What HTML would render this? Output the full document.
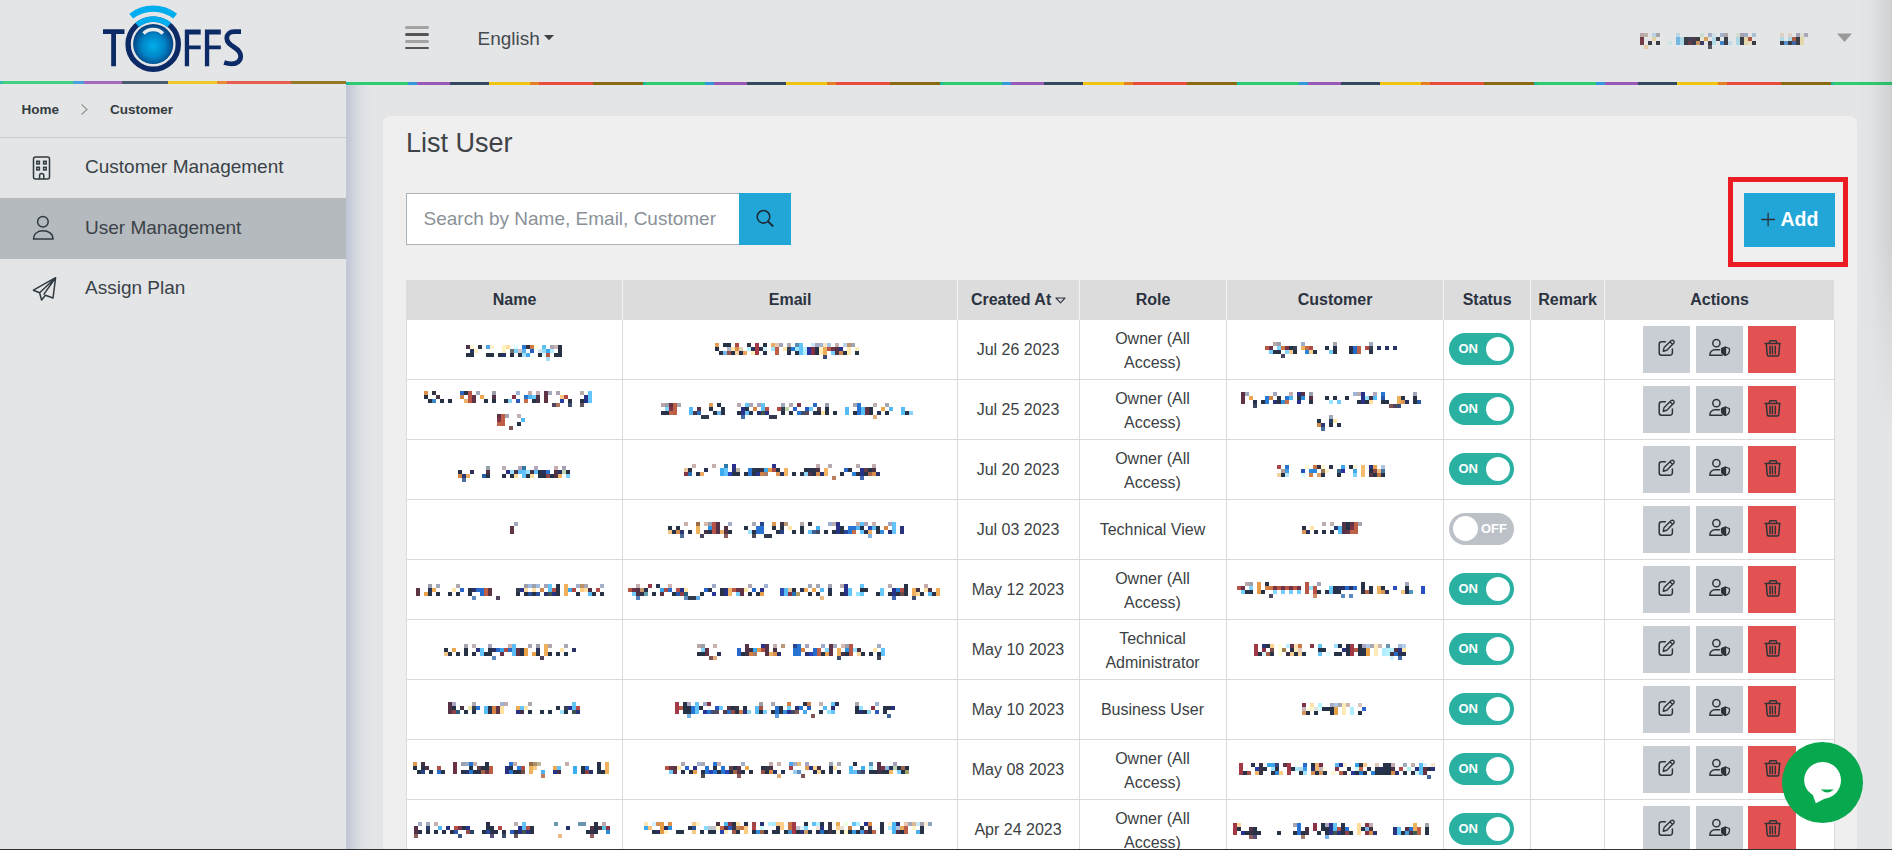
<!DOCTYPE html><html><head><meta charset="utf-8"><style>
*{box-sizing:border-box;margin:0;padding:0}
html,body{width:1892px;height:850px;overflow:hidden;background:#e4e5e6;font-family:"Liberation Sans", sans-serif;}
.a{position:absolute}
.t{position:absolute;white-space:nowrap;line-height:1}
.bar-l{position:absolute;left:0;top:81px;width:346px;height:3px;background:linear-gradient(to right,#1abc9c 0,#1abc9c 0.9%,#2ecc71 0.9%,#2ecc71 20.9%,#3498db 20.9%,#3498db 23.9%,#9b59b6 23.9%,#9b59b6 35%,#34495e 35%,#34495e 48.1%,#f1c40f 48.1%,#f1c40f 61.9%,#e67e22 61.9%,#e67e22 64.9%,#e74c3c 64.9%,#e74c3c 83.1%,#8a6a0e 83.1%,#8a6a0e 100%);background-size:350px 3px;opacity:0.88}
.bar-r{position:absolute;left:346px;top:82px;width:1546px;height:3px;background:linear-gradient(to right,#1abc9c 0,#1abc9c 0.9%,#2ecc71 0.9%,#2ecc71 20.9%,#3498db 20.9%,#3498db 23.9%,#9b59b6 23.9%,#9b59b6 35%,#34495e 35%,#34495e 48.1%,#f1c40f 48.1%,#f1c40f 61.9%,#e67e22 61.9%,#e67e22 64.9%,#e74c3c 64.9%,#e74c3c 83.1%,#8a6a0e 83.1%,#8a6a0e 100%);background-size:297px 3px;background-repeat:repeat-x}
.side-shadow{position:absolute;left:346px;top:85px;width:28px;height:765px;background:linear-gradient(to right,#c0c6d5 0,#c6cbd8 14%,#d3d7df 36%,#dcdfe3 54%,#e1e2e5 72%,#e4e5e6 100%)}
.card{position:absolute;left:383px;top:116px;width:1474px;height:800px;background:#efefef;border-radius:8px}
.hline{position:absolute;height:1px}
.vline{position:absolute;width:1px}
.menu{font-size:19px;color:#3a4248}
.th{font-size:16px;font-weight:bold;color:#2b3240;text-align:center}
.td{font-size:16px;color:#3b3f44;text-align:center;line-height:24px}
.btn{position:absolute;width:47px;height:47px}
.tog{position:absolute;width:65px;height:31.6px;border-radius:16px}
</style></head><body>
<svg class="a" style="left:0;top:0" width="300" height="80" viewBox="0 0 300 80">
<defs><radialGradient id="ball" cx="153.2" cy="46" r="21" gradientUnits="userSpaceOnUse">
<stop offset="0" stop-color="#00aeea"/><stop offset="0.55" stop-color="#0084c6"/><stop offset="1" stop-color="#063f7e"/></radialGradient></defs>
<path d="M103 29.2H124.5V33.9H116V66.2H111.2V33.9H103Z" fill="#0c2a66"/>
<circle cx="153.2" cy="44.2" r="25.1" fill="none" stroke="#0c2a66" stroke-width="5.4"/>
<path d="M137.07 24.97 A25.1 25.1 0 0 1 169.33 24.97" fill="none" stroke="#00adef" stroke-width="5.6"/>
<path d="M131.2 16.1 A35.8 35.8 0 0 1 175.2 16.1" fill="none" stroke="#00adef" stroke-width="6.2"/>
<circle cx="153.2" cy="44" r="20.1" fill="url(#ball)"/>
<path d="M143.5 33.5 A13.8 13.8 0 0 1 162.9 33.5" fill="none" stroke="#e8eaec" stroke-width="3.4"/>
<path d="M184.8 29.6H200.7V34.4H189.1V45.5H200.7V49.2H189.1V66.2H184.8Z" fill="#0c2a66"/>
<path d="M204.9 29.6H220.8V34.4H209.2V45.5H220.8V49.2H209.2V66.2H204.9Z" fill="#0c2a66"/>
<path d="M241 31.6C238.6 31.6 236.4 31.6 234.3 31.6C229.6 31.6 226.8 34.3 226.8 38.2C226.8 42.6 230 44.6 234 47.1C238.5 49.9 240.7 52.2 240.7 56.3C240.7 61 237 63.8 231.8 63.8C229.2 63.8 226.6 63.3 224.2 62.5" fill="none" stroke="#0c2a66" stroke-width="4.8"/>
</svg>
<div class="bar-l"></div><div class="bar-r"></div>
<div class="a" style="left:405px;top:26.2px;width:23.5px;height:2.9px;border-radius:1.5px;background:#a3a3a3"></div>
<div class="a" style="left:405px;top:33px;width:23.5px;height:2.9px;border-radius:1.5px;background:#555"></div>
<div class="a" style="left:405px;top:39.9px;width:23.5px;height:2.9px;border-radius:1.5px;background:#a3a3a3"></div>
<div class="a" style="left:405px;top:46.5px;width:23.5px;height:2.9px;border-radius:1.5px;background:#555"></div>
<div class="t" style="left:477.5px;top:29px;font-size:19px;color:#454a4f">English</div>
<svg class="a" style="left:543px;top:34px" width="12" height="8"><path d="M1 1H11L6 6.2Z" fill="#3d4247"/></svg>
<svg class="a" style="left:0;top:0" width="1892" height="80"><rect x="1640" y="33" width="4" height="4" fill="#baa6a7"/><rect x="1644" y="33" width="4" height="4" fill="#b9b3ab"/><rect x="1652" y="33" width="4" height="4" fill="#b7d2e3"/><rect x="1656" y="33" width="4" height="4" fill="#a7a2a7"/><rect x="1676" y="33" width="4" height="4" fill="#bfd6e5"/><rect x="1700" y="33" width="4" height="4" fill="#cdddd2"/><rect x="1708" y="33" width="4" height="4" fill="#a3b0c6"/><rect x="1712" y="33" width="4" height="4" fill="#d1e1e6"/><rect x="1720" y="33" width="4" height="4" fill="#a1b3cf"/><rect x="1724" y="33" width="4" height="4" fill="#aca4a4"/><rect x="1736" y="33" width="4" height="4" fill="#d7dacc"/><rect x="1740" y="33" width="4" height="4" fill="#a7a3b6"/><rect x="1744" y="33" width="4" height="4" fill="#a1acc0"/><rect x="1752" y="33" width="4" height="4" fill="#abbed3"/><rect x="1780" y="33" width="4" height="4" fill="#ded1c2"/><rect x="1788" y="33" width="4" height="4" fill="#dfd3c4"/><rect x="1796" y="33" width="4" height="4" fill="#a6a3b6"/><rect x="1800" y="33" width="4" height="4" fill="#dbded1"/><rect x="1804" y="33" width="4" height="4" fill="#a9a9bb"/><rect x="1640" y="37" width="4" height="4" fill="#713c46"/><rect x="1652" y="37" width="4" height="4" fill="#e4d1a1"/><rect x="1676" y="37" width="4" height="4" fill="#74b8e2"/><rect x="1680" y="37" width="4" height="4" fill="#acd8e6"/><rect x="1684" y="37" width="4" height="4" fill="#3c3c46"/><rect x="1688" y="37" width="4" height="4" fill="#3c4259"/><rect x="1692" y="37" width="4" height="4" fill="#4e3d46"/><rect x="1696" y="37" width="4" height="4" fill="#3c3c46"/><rect x="1700" y="37" width="4" height="4" fill="#e4e5d1"/><rect x="1704" y="37" width="4" height="4" fill="#d6a158"/><rect x="1712" y="37" width="4" height="4" fill="#b1dbe6"/><rect x="1716" y="37" width="4" height="4" fill="#3c3c46"/><rect x="1724" y="37" width="4" height="4" fill="#3c3c46"/><rect x="1736" y="37" width="4" height="4" fill="#aad7e6"/><rect x="1740" y="37" width="4" height="4" fill="#3c3c46"/><rect x="1744" y="37" width="4" height="4" fill="#e4d6ac"/><rect x="1748" y="37" width="4" height="4" fill="#a95846"/><rect x="1780" y="37" width="4" height="4" fill="#afdae6"/><rect x="1788" y="37" width="4" height="4" fill="#aed9e6"/><rect x="1792" y="37" width="4" height="4" fill="#ad5f46"/><rect x="1796" y="37" width="4" height="4" fill="#3c3c46"/><rect x="1800" y="37" width="4" height="4" fill="#e4d6ab"/><rect x="1640" y="41" width="4" height="4" fill="#713c46"/><rect x="1648" y="41" width="4" height="4" fill="#3c3c46"/><rect x="1656" y="41" width="4" height="4" fill="#3c3c46"/><rect x="1668" y="41" width="4" height="4" fill="#cae5e6"/><rect x="1676" y="41" width="4" height="4" fill="#74b8e2"/><rect x="1680" y="41" width="4" height="4" fill="#add9e6"/><rect x="1684" y="41" width="4" height="4" fill="#3c3c46"/><rect x="1688" y="41" width="4" height="4" fill="#633c46"/><rect x="1692" y="41" width="4" height="4" fill="#3c3c57"/><rect x="1696" y="41" width="4" height="4" fill="#c9935c"/><rect x="1700" y="41" width="4" height="4" fill="#3c3c64"/><rect x="1708" y="41" width="4" height="4" fill="#423c46"/><rect x="1712" y="41" width="4" height="4" fill="#b1dbe6"/><rect x="1720" y="41" width="4" height="4" fill="#4286c7"/><rect x="1724" y="41" width="4" height="4" fill="#3c3c49"/><rect x="1728" y="41" width="4" height="4" fill="#b9dae6"/><rect x="1736" y="41" width="4" height="4" fill="#add9e6"/><rect x="1740" y="41" width="4" height="4" fill="#3c3c46"/><rect x="1744" y="41" width="4" height="4" fill="#e4d6ac"/><rect x="1748" y="41" width="4" height="4" fill="#e4ddc3"/><rect x="1752" y="41" width="4" height="4" fill="#3c3c46"/><rect x="1780" y="41" width="4" height="4" fill="#3c3c46"/><rect x="1784" y="41" width="4" height="4" fill="#5895cc"/><rect x="1788" y="41" width="4" height="4" fill="#3c3c46"/><rect x="1792" y="41" width="4" height="4" fill="#3c66a5"/><rect x="1796" y="41" width="4" height="4" fill="#3c3c46"/><rect x="1800" y="41" width="4" height="4" fill="#e4d6ab"/><rect x="1644" y="45" width="4" height="4" fill="#e2caa4"/><rect x="1708" y="45" width="4" height="4" fill="#565866"/></svg>
<svg class="a" style="left:1836px;top:32px" width="18" height="12"><path d="M1 1.5H16L8.5 10Z" fill="#999"/></svg>
<div class="t" style="left:21.5px;top:102.5px;font-size:13.5px;font-weight:bold;color:#333b40">Home</div>
<svg class="a" style="left:79px;top:103px" width="12" height="13"><path d="M2.5 1.5L8 6.5L2.5 11.5" fill="none" stroke="#9a9a9a" stroke-width="1.3"/></svg>
<div class="t" style="left:110px;top:102.5px;font-size:13.5px;font-weight:bold;color:#333b40">Customer</div>
<div class="hline" style="left:0;top:137px;width:346px;background:#c9cbcd"></div>
<div class="a" style="left:0;top:198px;width:346px;height:61px;background:#b5babe"></div>
<svg class="a" style="left:0;top:140px" width="80" height="180" viewBox="0 140 80 180" fill="none" stroke="#2f3a40" stroke-width="1.5">
<rect x="33.5" y="157" width="16" height="22" rx="2"/>
<rect x="36.8" y="161.3" width="2.6" height="2.6"/><rect x="43.6" y="161.3" width="2.6" height="2.6"/>
<rect x="36.8" y="167.3" width="2.6" height="2.6"/><rect x="43.6" y="167.3" width="2.6" height="2.6"/>
<path d="M39.6 179V175.6A2.1 2.1 0 0 1 43.8 175.6V179"/>
<circle cx="42.9" cy="221.8" r="5.3"/>
<path d="M33.6 239.1C33.6 233.8 37.5 230.8 43 230.8C48.5 230.8 53 233.8 53 239.1Z"/>
<path d="M55.6 277.7L33.4 290.2L39.6 292.8L41.6 300L45.4 295.2L53 298Z M55.6 277.7L39.6 292.8 M55.6 277.7L43.6 294.6" stroke-linejoin="round"/>
</svg>
<div class="t menu" style="left:85px;top:157.4px">Customer Management</div>
<div class="t menu" style="left:85px;top:217.6px">User Management</div>
<div class="t menu" style="left:85px;top:277.6px">Assign Plan</div>
<div class="side-shadow"></div>
<div class="card"></div>
<div class="hline" style="left:383px;top:171px;width:1474px;background:#f1f2f4"></div>
<div class="t" style="left:406px;top:130px;font-size:27px;color:#3f4347">List User</div>
<div class="a" style="left:406px;top:193px;width:334px;height:52px;background:#fff;border:1px solid #a9b1b9"></div>
<div class="t" style="left:423.5px;top:209px;font-size:19px;color:#8a9198">Search by Name, Email, Customer</div>
<div class="a" style="left:739px;top:193px;width:52px;height:52px;background:#22a6d8"></div>
<svg class="a" style="left:750px;top:204px" width="30" height="30"><circle cx="13.5" cy="12.8" r="6.3" fill="none" stroke="#1d2a33" stroke-width="1.6"/><path d="M18 17.5L22.8 22" stroke="#1d2a33" stroke-width="1.8" stroke-linecap="round"/></svg>
<div class="a" style="left:1728px;top:177px;width:120px;height:90px;border:5px solid #ec1c24"></div>
<div class="a" style="left:1744px;top:193px;width:91px;height:54px;background:#22a6d8"></div>
<svg class="a" style="left:1760px;top:211px" width="17" height="17"><path d="M8.1 1.7V15.3M1.2 8.5H15" stroke="#2b3338" stroke-width="1.3"/></svg>
<div class="t" style="left:1780.5px;top:209.5px;font-size:19.5px;font-weight:bold;color:#fff">Add</div>
<div class="a" style="left:406px;top:280px;width:1428px;height:40px;background:#dcdcdc"></div>
<div class="a" style="left:406px;top:320px;width:1429px;height:530px;background:#fff"></div>
<div class="t th" style="left:406.6px;top:291.5px;width:216px">Name</div>
<div class="t th" style="left:622.6px;top:291.5px;width:335px">Email</div>
<div class="t th" style="left:957.6px;top:291.5px;width:122px">Created At<svg style="display:inline-block;margin-left:4px;vertical-align:1px" width="11" height="7"><path d="M1 1H10L5.5 5.8Z" fill="none" stroke="#2b3240" stroke-width="1.1" stroke-linejoin="round"/></svg></div>
<div class="t th" style="left:1079.6px;top:291.5px;width:147px">Role</div>
<div class="t th" style="left:1226.6px;top:291.5px;width:217px">Customer</div>
<div class="t th" style="left:1443.6px;top:291.5px;width:87px">Status</div>
<div class="t th" style="left:1530.6px;top:291.5px;width:74px">Remark</div>
<div class="t th" style="left:1604.6px;top:291.5px;width:230px">Actions</div>
<div class="vline" style="left:622px;top:280px;height:40px;background:#f3f3f3"></div>
<div class="vline" style="left:957px;top:280px;height:40px;background:#f3f3f3"></div>
<div class="vline" style="left:1079px;top:280px;height:40px;background:#f3f3f3"></div>
<div class="vline" style="left:1226px;top:280px;height:40px;background:#f3f3f3"></div>
<div class="vline" style="left:1443px;top:280px;height:40px;background:#f3f3f3"></div>
<div class="vline" style="left:1530px;top:280px;height:40px;background:#f3f3f3"></div>
<div class="vline" style="left:1604px;top:280px;height:40px;background:#f3f3f3"></div>
<div class="vline" style="left:406px;top:320px;height:530px;background:#dadada"></div>
<div class="vline" style="left:622px;top:320px;height:530px;background:#dadada"></div>
<div class="vline" style="left:957px;top:320px;height:530px;background:#dadada"></div>
<div class="vline" style="left:1079px;top:320px;height:530px;background:#dadada"></div>
<div class="vline" style="left:1226px;top:320px;height:530px;background:#dadada"></div>
<div class="vline" style="left:1443px;top:320px;height:530px;background:#dadada"></div>
<div class="vline" style="left:1530px;top:320px;height:530px;background:#dadada"></div>
<div class="vline" style="left:1604px;top:320px;height:530px;background:#dadada"></div>
<div class="vline" style="left:1834px;top:320px;height:530px;background:#dadada"></div>
<div class="hline" style="left:406px;top:379.000px;width:1429px;background:#dadada"></div>
<div class="hline" style="left:406px;top:439.000px;width:1429px;background:#dadada"></div>
<div class="hline" style="left:406px;top:499.000px;width:1429px;background:#dadada"></div>
<div class="hline" style="left:406px;top:559.000px;width:1429px;background:#dadada"></div>
<div class="hline" style="left:406px;top:619.000px;width:1429px;background:#dadada"></div>
<div class="hline" style="left:406px;top:679.000px;width:1429px;background:#dadada"></div>
<div class="hline" style="left:406px;top:739.000px;width:1429px;background:#dadada"></div>
<div class="hline" style="left:406px;top:799.000px;width:1429px;background:#dadada"></div>
<div class="hline" style="left:406px;top:859.000px;width:1429px;background:#dadada"></div>
<div class="t td" style="left:957px;top:338.00px;width:122px">Jul 26 2023</div>
<div class="a td" style="left:1079px;top:326.50px;width:147px">Owner (All<br>Access)</div>
<div class="tog" style="left:1449px;top:333.00px;background:#2bb1a1"><div class="a" style="left:37px;top:3.8px;width:24px;height:24px;border-radius:50%;background:#fff"></div><div class="t" style="left:9.5px;top:9px;font-size:13px;font-weight:bold;color:#fff">ON</div></div>
<div class="btn" style="left:1643px;top:326.00px;background:#c9ced4"></div>
<div class="btn" style="left:1696px;top:326.00px;background:#c9ced4"></div>
<div class="btn" style="left:1748px;top:326.00px;width:48px;background:#e35252"></div>
<svg class="a" style="left:1643px;top:326.00px" width="160" height="47" fill="none" stroke="#2e3338" stroke-width="1.5" stroke-linecap="round" stroke-linejoin="round">
<path d="M22.4 15.65H18.7A2.5 2.5 0 0 0 16.2 18.15V26.7A2.5 2.5 0 0 0 18.7 29.2H26.9A2.5 2.5 0 0 0 29.4 26.7V23.1"/>
<path d="M20.2 25.2L21.1 21.6L28.3 14.5A1.9 1.9 0 0 1 30.9 17.1L23.8 24.3Z" stroke-width="1.4"/>
<path d="M27.1 16L29.5 18.3" stroke-width="1.2"/>
<circle cx="73.4" cy="17.2" r="3.6"/>
<path d="M66.9 29.3V28.6A5 4.8 0 0 1 71.9 23.8H76.5M66.9 29.3H79"/>
<path d="M82.5 21.2L78.6 22.5V24.8C78.6 27 80.2 28.6 82.5 29.3C84.8 28.6 86.4 27 86.4 24.8V22.5Z" stroke-width="1.3"/>
<path d="M82.5 21.2L78.6 22.5V24.8C78.6 27 80.2 28.6 82.5 29.3Z" fill="#2e3338" stroke-width="1.3"/>
<path d="M122 17.4H137M126.1 17.4L126.9 14.8H133.1L133.9 17.4M123.3 17.4L124.2 28.5A1.6 1.6 0 0 0 125.8 30H134.2A1.6 1.6 0 0 0 135.8 28.5L136.7 17.4M127 20.3V27.7M129.4 20.3V27.7M132.3 20.3V27.7"/>
</svg>
<div class="t td" style="left:957px;top:398.00px;width:122px">Jul 25 2023</div>
<div class="a td" style="left:1079px;top:386.50px;width:147px">Owner (All<br>Access)</div>
<div class="tog" style="left:1449px;top:393.00px;background:#2bb1a1"><div class="a" style="left:37px;top:3.8px;width:24px;height:24px;border-radius:50%;background:#fff"></div><div class="t" style="left:9.5px;top:9px;font-size:13px;font-weight:bold;color:#fff">ON</div></div>
<div class="btn" style="left:1643px;top:386.00px;background:#c9ced4"></div>
<div class="btn" style="left:1696px;top:386.00px;background:#c9ced4"></div>
<div class="btn" style="left:1748px;top:386.00px;width:48px;background:#e35252"></div>
<svg class="a" style="left:1643px;top:386.00px" width="160" height="47" fill="none" stroke="#2e3338" stroke-width="1.5" stroke-linecap="round" stroke-linejoin="round">
<path d="M22.4 15.65H18.7A2.5 2.5 0 0 0 16.2 18.15V26.7A2.5 2.5 0 0 0 18.7 29.2H26.9A2.5 2.5 0 0 0 29.4 26.7V23.1"/>
<path d="M20.2 25.2L21.1 21.6L28.3 14.5A1.9 1.9 0 0 1 30.9 17.1L23.8 24.3Z" stroke-width="1.4"/>
<path d="M27.1 16L29.5 18.3" stroke-width="1.2"/>
<circle cx="73.4" cy="17.2" r="3.6"/>
<path d="M66.9 29.3V28.6A5 4.8 0 0 1 71.9 23.8H76.5M66.9 29.3H79"/>
<path d="M82.5 21.2L78.6 22.5V24.8C78.6 27 80.2 28.6 82.5 29.3C84.8 28.6 86.4 27 86.4 24.8V22.5Z" stroke-width="1.3"/>
<path d="M82.5 21.2L78.6 22.5V24.8C78.6 27 80.2 28.6 82.5 29.3Z" fill="#2e3338" stroke-width="1.3"/>
<path d="M122 17.4H137M126.1 17.4L126.9 14.8H133.1L133.9 17.4M123.3 17.4L124.2 28.5A1.6 1.6 0 0 0 125.8 30H134.2A1.6 1.6 0 0 0 135.8 28.5L136.7 17.4M127 20.3V27.7M129.4 20.3V27.7M132.3 20.3V27.7"/>
</svg>
<div class="t td" style="left:957px;top:458.00px;width:122px">Jul 20 2023</div>
<div class="a td" style="left:1079px;top:446.50px;width:147px">Owner (All<br>Access)</div>
<div class="tog" style="left:1449px;top:453.00px;background:#2bb1a1"><div class="a" style="left:37px;top:3.8px;width:24px;height:24px;border-radius:50%;background:#fff"></div><div class="t" style="left:9.5px;top:9px;font-size:13px;font-weight:bold;color:#fff">ON</div></div>
<div class="btn" style="left:1643px;top:446.00px;background:#c9ced4"></div>
<div class="btn" style="left:1696px;top:446.00px;background:#c9ced4"></div>
<div class="btn" style="left:1748px;top:446.00px;width:48px;background:#e35252"></div>
<svg class="a" style="left:1643px;top:446.00px" width="160" height="47" fill="none" stroke="#2e3338" stroke-width="1.5" stroke-linecap="round" stroke-linejoin="round">
<path d="M22.4 15.65H18.7A2.5 2.5 0 0 0 16.2 18.15V26.7A2.5 2.5 0 0 0 18.7 29.2H26.9A2.5 2.5 0 0 0 29.4 26.7V23.1"/>
<path d="M20.2 25.2L21.1 21.6L28.3 14.5A1.9 1.9 0 0 1 30.9 17.1L23.8 24.3Z" stroke-width="1.4"/>
<path d="M27.1 16L29.5 18.3" stroke-width="1.2"/>
<circle cx="73.4" cy="17.2" r="3.6"/>
<path d="M66.9 29.3V28.6A5 4.8 0 0 1 71.9 23.8H76.5M66.9 29.3H79"/>
<path d="M82.5 21.2L78.6 22.5V24.8C78.6 27 80.2 28.6 82.5 29.3C84.8 28.6 86.4 27 86.4 24.8V22.5Z" stroke-width="1.3"/>
<path d="M82.5 21.2L78.6 22.5V24.8C78.6 27 80.2 28.6 82.5 29.3Z" fill="#2e3338" stroke-width="1.3"/>
<path d="M122 17.4H137M126.1 17.4L126.9 14.8H133.1L133.9 17.4M123.3 17.4L124.2 28.5A1.6 1.6 0 0 0 125.8 30H134.2A1.6 1.6 0 0 0 135.8 28.5L136.7 17.4M127 20.3V27.7M129.4 20.3V27.7M132.3 20.3V27.7"/>
</svg>
<div class="t td" style="left:957px;top:518.00px;width:122px">Jul 03 2023</div>
<div class="a td" style="left:1079px;top:517.50px;width:147px">Technical View</div>
<div class="tog" style="left:1449px;top:513.00px;background:#bcc1c8"><div class="a" style="left:3.8px;top:3.3px;width:25px;height:25px;border-radius:50%;background:#fff"></div><div class="t" style="left:32px;top:8.5px;font-size:13px;font-weight:bold;color:#fff">OFF</div></div>
<div class="btn" style="left:1643px;top:506.00px;background:#c9ced4"></div>
<div class="btn" style="left:1696px;top:506.00px;background:#c9ced4"></div>
<div class="btn" style="left:1748px;top:506.00px;width:48px;background:#e35252"></div>
<svg class="a" style="left:1643px;top:506.00px" width="160" height="47" fill="none" stroke="#2e3338" stroke-width="1.5" stroke-linecap="round" stroke-linejoin="round">
<path d="M22.4 15.65H18.7A2.5 2.5 0 0 0 16.2 18.15V26.7A2.5 2.5 0 0 0 18.7 29.2H26.9A2.5 2.5 0 0 0 29.4 26.7V23.1"/>
<path d="M20.2 25.2L21.1 21.6L28.3 14.5A1.9 1.9 0 0 1 30.9 17.1L23.8 24.3Z" stroke-width="1.4"/>
<path d="M27.1 16L29.5 18.3" stroke-width="1.2"/>
<circle cx="73.4" cy="17.2" r="3.6"/>
<path d="M66.9 29.3V28.6A5 4.8 0 0 1 71.9 23.8H76.5M66.9 29.3H79"/>
<path d="M82.5 21.2L78.6 22.5V24.8C78.6 27 80.2 28.6 82.5 29.3C84.8 28.6 86.4 27 86.4 24.8V22.5Z" stroke-width="1.3"/>
<path d="M82.5 21.2L78.6 22.5V24.8C78.6 27 80.2 28.6 82.5 29.3Z" fill="#2e3338" stroke-width="1.3"/>
<path d="M122 17.4H137M126.1 17.4L126.9 14.8H133.1L133.9 17.4M123.3 17.4L124.2 28.5A1.6 1.6 0 0 0 125.8 30H134.2A1.6 1.6 0 0 0 135.8 28.5L136.7 17.4M127 20.3V27.7M129.4 20.3V27.7M132.3 20.3V27.7"/>
</svg>
<div class="t td" style="left:957px;top:578.00px;width:122px">May 12 2023</div>
<div class="a td" style="left:1079px;top:566.50px;width:147px">Owner (All<br>Access)</div>
<div class="tog" style="left:1449px;top:573.00px;background:#2bb1a1"><div class="a" style="left:37px;top:3.8px;width:24px;height:24px;border-radius:50%;background:#fff"></div><div class="t" style="left:9.5px;top:9px;font-size:13px;font-weight:bold;color:#fff">ON</div></div>
<div class="btn" style="left:1643px;top:566.00px;background:#c9ced4"></div>
<div class="btn" style="left:1696px;top:566.00px;background:#c9ced4"></div>
<div class="btn" style="left:1748px;top:566.00px;width:48px;background:#e35252"></div>
<svg class="a" style="left:1643px;top:566.00px" width="160" height="47" fill="none" stroke="#2e3338" stroke-width="1.5" stroke-linecap="round" stroke-linejoin="round">
<path d="M22.4 15.65H18.7A2.5 2.5 0 0 0 16.2 18.15V26.7A2.5 2.5 0 0 0 18.7 29.2H26.9A2.5 2.5 0 0 0 29.4 26.7V23.1"/>
<path d="M20.2 25.2L21.1 21.6L28.3 14.5A1.9 1.9 0 0 1 30.9 17.1L23.8 24.3Z" stroke-width="1.4"/>
<path d="M27.1 16L29.5 18.3" stroke-width="1.2"/>
<circle cx="73.4" cy="17.2" r="3.6"/>
<path d="M66.9 29.3V28.6A5 4.8 0 0 1 71.9 23.8H76.5M66.9 29.3H79"/>
<path d="M82.5 21.2L78.6 22.5V24.8C78.6 27 80.2 28.6 82.5 29.3C84.8 28.6 86.4 27 86.4 24.8V22.5Z" stroke-width="1.3"/>
<path d="M82.5 21.2L78.6 22.5V24.8C78.6 27 80.2 28.6 82.5 29.3Z" fill="#2e3338" stroke-width="1.3"/>
<path d="M122 17.4H137M126.1 17.4L126.9 14.8H133.1L133.9 17.4M123.3 17.4L124.2 28.5A1.6 1.6 0 0 0 125.8 30H134.2A1.6 1.6 0 0 0 135.8 28.5L136.7 17.4M127 20.3V27.7M129.4 20.3V27.7M132.3 20.3V27.7"/>
</svg>
<div class="t td" style="left:957px;top:638.00px;width:122px">May 10 2023</div>
<div class="a td" style="left:1079px;top:626.50px;width:147px">Technical<br>Administrator</div>
<div class="tog" style="left:1449px;top:633.00px;background:#2bb1a1"><div class="a" style="left:37px;top:3.8px;width:24px;height:24px;border-radius:50%;background:#fff"></div><div class="t" style="left:9.5px;top:9px;font-size:13px;font-weight:bold;color:#fff">ON</div></div>
<div class="btn" style="left:1643px;top:626.00px;background:#c9ced4"></div>
<div class="btn" style="left:1696px;top:626.00px;background:#c9ced4"></div>
<div class="btn" style="left:1748px;top:626.00px;width:48px;background:#e35252"></div>
<svg class="a" style="left:1643px;top:626.00px" width="160" height="47" fill="none" stroke="#2e3338" stroke-width="1.5" stroke-linecap="round" stroke-linejoin="round">
<path d="M22.4 15.65H18.7A2.5 2.5 0 0 0 16.2 18.15V26.7A2.5 2.5 0 0 0 18.7 29.2H26.9A2.5 2.5 0 0 0 29.4 26.7V23.1"/>
<path d="M20.2 25.2L21.1 21.6L28.3 14.5A1.9 1.9 0 0 1 30.9 17.1L23.8 24.3Z" stroke-width="1.4"/>
<path d="M27.1 16L29.5 18.3" stroke-width="1.2"/>
<circle cx="73.4" cy="17.2" r="3.6"/>
<path d="M66.9 29.3V28.6A5 4.8 0 0 1 71.9 23.8H76.5M66.9 29.3H79"/>
<path d="M82.5 21.2L78.6 22.5V24.8C78.6 27 80.2 28.6 82.5 29.3C84.8 28.6 86.4 27 86.4 24.8V22.5Z" stroke-width="1.3"/>
<path d="M82.5 21.2L78.6 22.5V24.8C78.6 27 80.2 28.6 82.5 29.3Z" fill="#2e3338" stroke-width="1.3"/>
<path d="M122 17.4H137M126.1 17.4L126.9 14.8H133.1L133.9 17.4M123.3 17.4L124.2 28.5A1.6 1.6 0 0 0 125.8 30H134.2A1.6 1.6 0 0 0 135.8 28.5L136.7 17.4M127 20.3V27.7M129.4 20.3V27.7M132.3 20.3V27.7"/>
</svg>
<div class="t td" style="left:957px;top:698.00px;width:122px">May 10 2023</div>
<div class="a td" style="left:1079px;top:697.50px;width:147px">Business User</div>
<div class="tog" style="left:1449px;top:693.00px;background:#2bb1a1"><div class="a" style="left:37px;top:3.8px;width:24px;height:24px;border-radius:50%;background:#fff"></div><div class="t" style="left:9.5px;top:9px;font-size:13px;font-weight:bold;color:#fff">ON</div></div>
<div class="btn" style="left:1643px;top:686.00px;background:#c9ced4"></div>
<div class="btn" style="left:1696px;top:686.00px;background:#c9ced4"></div>
<div class="btn" style="left:1748px;top:686.00px;width:48px;background:#e35252"></div>
<svg class="a" style="left:1643px;top:686.00px" width="160" height="47" fill="none" stroke="#2e3338" stroke-width="1.5" stroke-linecap="round" stroke-linejoin="round">
<path d="M22.4 15.65H18.7A2.5 2.5 0 0 0 16.2 18.15V26.7A2.5 2.5 0 0 0 18.7 29.2H26.9A2.5 2.5 0 0 0 29.4 26.7V23.1"/>
<path d="M20.2 25.2L21.1 21.6L28.3 14.5A1.9 1.9 0 0 1 30.9 17.1L23.8 24.3Z" stroke-width="1.4"/>
<path d="M27.1 16L29.5 18.3" stroke-width="1.2"/>
<circle cx="73.4" cy="17.2" r="3.6"/>
<path d="M66.9 29.3V28.6A5 4.8 0 0 1 71.9 23.8H76.5M66.9 29.3H79"/>
<path d="M82.5 21.2L78.6 22.5V24.8C78.6 27 80.2 28.6 82.5 29.3C84.8 28.6 86.4 27 86.4 24.8V22.5Z" stroke-width="1.3"/>
<path d="M82.5 21.2L78.6 22.5V24.8C78.6 27 80.2 28.6 82.5 29.3Z" fill="#2e3338" stroke-width="1.3"/>
<path d="M122 17.4H137M126.1 17.4L126.9 14.8H133.1L133.9 17.4M123.3 17.4L124.2 28.5A1.6 1.6 0 0 0 125.8 30H134.2A1.6 1.6 0 0 0 135.8 28.5L136.7 17.4M127 20.3V27.7M129.4 20.3V27.7M132.3 20.3V27.7"/>
</svg>
<div class="t td" style="left:957px;top:758.00px;width:122px">May 08 2023</div>
<div class="a td" style="left:1079px;top:746.50px;width:147px">Owner (All<br>Access)</div>
<div class="tog" style="left:1449px;top:753.00px;background:#2bb1a1"><div class="a" style="left:37px;top:3.8px;width:24px;height:24px;border-radius:50%;background:#fff"></div><div class="t" style="left:9.5px;top:9px;font-size:13px;font-weight:bold;color:#fff">ON</div></div>
<div class="btn" style="left:1643px;top:746.00px;background:#c9ced4"></div>
<div class="btn" style="left:1696px;top:746.00px;background:#c9ced4"></div>
<div class="btn" style="left:1748px;top:746.00px;width:48px;background:#e35252"></div>
<svg class="a" style="left:1643px;top:746.00px" width="160" height="47" fill="none" stroke="#2e3338" stroke-width="1.5" stroke-linecap="round" stroke-linejoin="round">
<path d="M22.4 15.65H18.7A2.5 2.5 0 0 0 16.2 18.15V26.7A2.5 2.5 0 0 0 18.7 29.2H26.9A2.5 2.5 0 0 0 29.4 26.7V23.1"/>
<path d="M20.2 25.2L21.1 21.6L28.3 14.5A1.9 1.9 0 0 1 30.9 17.1L23.8 24.3Z" stroke-width="1.4"/>
<path d="M27.1 16L29.5 18.3" stroke-width="1.2"/>
<circle cx="73.4" cy="17.2" r="3.6"/>
<path d="M66.9 29.3V28.6A5 4.8 0 0 1 71.9 23.8H76.5M66.9 29.3H79"/>
<path d="M82.5 21.2L78.6 22.5V24.8C78.6 27 80.2 28.6 82.5 29.3C84.8 28.6 86.4 27 86.4 24.8V22.5Z" stroke-width="1.3"/>
<path d="M82.5 21.2L78.6 22.5V24.8C78.6 27 80.2 28.6 82.5 29.3Z" fill="#2e3338" stroke-width="1.3"/>
<path d="M122 17.4H137M126.1 17.4L126.9 14.8H133.1L133.9 17.4M123.3 17.4L124.2 28.5A1.6 1.6 0 0 0 125.8 30H134.2A1.6 1.6 0 0 0 135.8 28.5L136.7 17.4M127 20.3V27.7M129.4 20.3V27.7M132.3 20.3V27.7"/>
</svg>
<div class="t td" style="left:957px;top:818.00px;width:122px">Apr 24 2023</div>
<div class="a td" style="left:1079px;top:806.50px;width:147px">Owner (All<br>Access)</div>
<div class="tog" style="left:1449px;top:813.00px;background:#2bb1a1"><div class="a" style="left:37px;top:3.8px;width:24px;height:24px;border-radius:50%;background:#fff"></div><div class="t" style="left:9.5px;top:9px;font-size:13px;font-weight:bold;color:#fff">ON</div></div>
<div class="btn" style="left:1643px;top:806.00px;background:#c9ced4"></div>
<div class="btn" style="left:1696px;top:806.00px;background:#c9ced4"></div>
<div class="btn" style="left:1748px;top:806.00px;width:48px;background:#e35252"></div>
<svg class="a" style="left:1643px;top:806.00px" width="160" height="47" fill="none" stroke="#2e3338" stroke-width="1.5" stroke-linecap="round" stroke-linejoin="round">
<path d="M22.4 15.65H18.7A2.5 2.5 0 0 0 16.2 18.15V26.7A2.5 2.5 0 0 0 18.7 29.2H26.9A2.5 2.5 0 0 0 29.4 26.7V23.1"/>
<path d="M20.2 25.2L21.1 21.6L28.3 14.5A1.9 1.9 0 0 1 30.9 17.1L23.8 24.3Z" stroke-width="1.4"/>
<path d="M27.1 16L29.5 18.3" stroke-width="1.2"/>
<circle cx="73.4" cy="17.2" r="3.6"/>
<path d="M66.9 29.3V28.6A5 4.8 0 0 1 71.9 23.8H76.5M66.9 29.3H79"/>
<path d="M82.5 21.2L78.6 22.5V24.8C78.6 27 80.2 28.6 82.5 29.3C84.8 28.6 86.4 27 86.4 24.8V22.5Z" stroke-width="1.3"/>
<path d="M82.5 21.2L78.6 22.5V24.8C78.6 27 80.2 28.6 82.5 29.3Z" fill="#2e3338" stroke-width="1.3"/>
<path d="M122 17.4H137M126.1 17.4L126.9 14.8H133.1L133.9 17.4M123.3 17.4L124.2 28.5A1.6 1.6 0 0 0 125.8 30H134.2A1.6 1.6 0 0 0 135.8 28.5L136.7 17.4M127 20.3V27.7M129.4 20.3V27.7M132.3 20.3V27.7"/>
</svg>
<svg class="a" style="left:0;top:0" width="1892" height="850"><rect x="466" y="345" width="4" height="4" fill="#503246"/><rect x="470" y="345" width="4" height="4" fill="#fff8d2"/><rect x="478" y="345" width="4" height="4" fill="#323246"/><rect x="486" y="345" width="4" height="4" fill="#4da4e4"/><rect x="490" y="345" width="4" height="4" fill="#fff0cd"/><rect x="502" y="345" width="4" height="4" fill="#fff1c1"/><rect x="506" y="345" width="4" height="4" fill="#ffdea0"/><rect x="514" y="345" width="4" height="4" fill="#ddfefb"/><rect x="522" y="345" width="4" height="4" fill="#2877d4"/><rect x="526" y="345" width="4" height="4" fill="#363246"/><rect x="530" y="345" width="4" height="4" fill="#cb7946"/><rect x="534" y="345" width="4" height="4" fill="#ffffe2"/><rect x="542" y="345" width="4" height="4" fill="#59bef0"/><rect x="550" y="345" width="4" height="4" fill="#ada4b8"/><rect x="554" y="345" width="4" height="4" fill="#ccb7b1"/><rect x="558" y="345" width="4" height="4" fill="#283246"/><rect x="470" y="349" width="4" height="4" fill="#283264"/><rect x="474" y="349" width="4" height="4" fill="#ffeec0"/><rect x="502" y="349" width="4" height="4" fill="#fff1c1"/><rect x="510" y="349" width="4" height="4" fill="#6c7474"/><rect x="514" y="349" width="4" height="4" fill="#74cefe"/><rect x="518" y="349" width="4" height="4" fill="#d1c4c1"/><rect x="522" y="349" width="4" height="4" fill="#55b0ed"/><rect x="530" y="349" width="4" height="4" fill="#285cbd"/><rect x="538" y="349" width="4" height="4" fill="#d3e4ea"/><rect x="542" y="349" width="4" height="4" fill="#90dbfd"/><rect x="546" y="349" width="4" height="4" fill="#39a6ed"/><rect x="550" y="349" width="4" height="4" fill="#afedff"/><rect x="558" y="349" width="4" height="4" fill="#283246"/><rect x="466" y="353" width="4" height="4" fill="#283246"/><rect x="470" y="353" width="4" height="4" fill="#283246"/><rect x="486" y="353" width="4" height="4" fill="#283246"/><rect x="490" y="353" width="4" height="4" fill="#283246"/><rect x="498" y="353" width="4" height="4" fill="#283246"/><rect x="502" y="353" width="4" height="4" fill="#28326b"/><rect x="510" y="353" width="4" height="4" fill="#283246"/><rect x="518" y="353" width="4" height="4" fill="#283246"/><rect x="522" y="353" width="4" height="4" fill="#a5e2fd"/><rect x="526" y="353" width="4" height="4" fill="#46a8ec"/><rect x="538" y="353" width="4" height="4" fill="#283246"/><rect x="542" y="353" width="4" height="4" fill="#dbf9ff"/><rect x="546" y="353" width="4" height="4" fill="#b65846"/><rect x="554" y="353" width="4" height="4" fill="#283246"/><rect x="558" y="353" width="4" height="4" fill="#283246"/><rect x="546" y="357" width="4" height="4" fill="#abddf9"/><rect x="715" y="343" width="4" height="4" fill="#e29c52"/><rect x="723" y="343" width="4" height="4" fill="#283246"/><rect x="727" y="343" width="4" height="4" fill="#283246"/><rect x="735" y="343" width="4" height="4" fill="#ae4a46"/><rect x="747" y="343" width="4" height="4" fill="#3b3246"/><rect x="755" y="343" width="4" height="4" fill="#a13a46"/><rect x="763" y="343" width="4" height="4" fill="#283246"/><rect x="771" y="343" width="4" height="4" fill="#ecae64"/><rect x="775" y="343" width="4" height="4" fill="#e7c6b3"/><rect x="779" y="343" width="4" height="4" fill="#a6a5b2"/><rect x="787" y="343" width="4" height="4" fill="#b0a9af"/><rect x="795" y="343" width="4" height="4" fill="#588db1"/><rect x="799" y="343" width="4" height="4" fill="#62c4fa"/><rect x="811" y="343" width="4" height="4" fill="#cae7fa"/><rect x="815" y="343" width="4" height="4" fill="#aaa9c3"/><rect x="819" y="343" width="4" height="4" fill="#a3b4d0"/><rect x="823" y="343" width="4" height="4" fill="#fae4c8"/><rect x="827" y="343" width="4" height="4" fill="#a5c4e9"/><rect x="835" y="343" width="4" height="4" fill="#c6aeae"/><rect x="843" y="343" width="4" height="4" fill="#bcd6ee"/><rect x="847" y="343" width="4" height="4" fill="#bb9773"/><rect x="851" y="343" width="4" height="4" fill="#a2a4ac"/><rect x="715" y="347" width="4" height="4" fill="#283246"/><rect x="727" y="347" width="4" height="4" fill="#b5b4c8"/><rect x="731" y="347" width="4" height="4" fill="#ffe2a9"/><rect x="735" y="347" width="4" height="4" fill="#d88d4a"/><rect x="739" y="347" width="4" height="4" fill="#e2d1b7"/><rect x="747" y="347" width="4" height="4" fill="#b8f2ff"/><rect x="751" y="347" width="4" height="4" fill="#283256"/><rect x="755" y="347" width="4" height="4" fill="#a13a46"/><rect x="759" y="347" width="4" height="4" fill="#283246"/><rect x="763" y="347" width="4" height="4" fill="#d4f3ff"/><rect x="771" y="347" width="4" height="4" fill="#9be3ff"/><rect x="775" y="347" width="4" height="4" fill="#bd5e46"/><rect x="783" y="347" width="4" height="4" fill="#ffe5a9"/><rect x="787" y="347" width="4" height="4" fill="#364052"/><rect x="791" y="347" width="4" height="4" fill="#2876d4"/><rect x="795" y="347" width="4" height="4" fill="#9be5ff"/><rect x="799" y="347" width="4" height="4" fill="#62c4fa"/><rect x="803" y="347" width="4" height="4" fill="#b3efff"/><rect x="807" y="347" width="4" height="4" fill="#2832a3"/><rect x="811" y="347" width="4" height="4" fill="#833246"/><rect x="815" y="347" width="4" height="4" fill="#283246"/><rect x="819" y="347" width="4" height="4" fill="#ffecb7"/><rect x="823" y="347" width="4" height="4" fill="#efaf5a"/><rect x="827" y="347" width="4" height="4" fill="#b65746"/><rect x="831" y="347" width="4" height="4" fill="#6f3246"/><rect x="835" y="347" width="4" height="4" fill="#543246"/><rect x="839" y="347" width="4" height="4" fill="#283285"/><rect x="847" y="347" width="4" height="4" fill="#ffe9b1"/><rect x="855" y="347" width="4" height="4" fill="#ffefbe"/><rect x="719" y="351" width="4" height="4" fill="#283246"/><rect x="723" y="351" width="4" height="4" fill="#70b7eb"/><rect x="727" y="351" width="4" height="4" fill="#995146"/><rect x="731" y="351" width="4" height="4" fill="#283246"/><rect x="735" y="351" width="4" height="4" fill="#f8d5a0"/><rect x="739" y="351" width="4" height="4" fill="#283246"/><rect x="743" y="351" width="4" height="4" fill="#e9a555"/><rect x="751" y="351" width="4" height="4" fill="#ffecb7"/><rect x="755" y="351" width="4" height="4" fill="#a13a46"/><rect x="763" y="351" width="4" height="4" fill="#283246"/><rect x="775" y="351" width="4" height="4" fill="#bd5e46"/><rect x="787" y="351" width="4" height="4" fill="#283246"/><rect x="795" y="351" width="4" height="4" fill="#283246"/><rect x="799" y="351" width="4" height="4" fill="#62c4fa"/><rect x="803" y="351" width="4" height="4" fill="#b4f0ff"/><rect x="807" y="351" width="4" height="4" fill="#2833a5"/><rect x="811" y="351" width="4" height="4" fill="#833246"/><rect x="815" y="351" width="4" height="4" fill="#283246"/><rect x="819" y="351" width="4" height="4" fill="#ffecb7"/><rect x="823" y="351" width="4" height="4" fill="#efaf5a"/><rect x="831" y="351" width="4" height="4" fill="#73cefd"/><rect x="835" y="351" width="4" height="4" fill="#543246"/><rect x="839" y="351" width="4" height="4" fill="#cd884e"/><rect x="843" y="351" width="4" height="4" fill="#283246"/><rect x="847" y="351" width="4" height="4" fill="#ffe9b1"/><rect x="855" y="351" width="4" height="4" fill="#283249"/><rect x="823" y="355" width="4" height="4" fill="#3b4b71"/><rect x="1273" y="342" width="4" height="4" fill="#b9a7a7"/><rect x="1277" y="342" width="4" height="4" fill="#9b9fa9"/><rect x="1301" y="342" width="4" height="4" fill="#9eadcd"/><rect x="1333" y="342" width="4" height="4" fill="#a6a5ad"/><rect x="1369" y="342" width="4" height="4" fill="#a2aabe"/><rect x="1265" y="346" width="4" height="4" fill="#b65746"/><rect x="1269" y="346" width="4" height="4" fill="#6f3246"/><rect x="1277" y="346" width="4" height="4" fill="#81d3fc"/><rect x="1281" y="346" width="4" height="4" fill="#ce7846"/><rect x="1285" y="346" width="4" height="4" fill="#7f3246"/><rect x="1289" y="346" width="4" height="4" fill="#283246"/><rect x="1293" y="346" width="4" height="4" fill="#364052"/><rect x="1301" y="346" width="4" height="4" fill="#efaf5e"/><rect x="1305" y="346" width="4" height="4" fill="#c66c46"/><rect x="1309" y="346" width="4" height="4" fill="#b04a46"/><rect x="1325" y="346" width="4" height="4" fill="#283246"/><rect x="1333" y="346" width="4" height="4" fill="#283246"/><rect x="1349" y="346" width="4" height="4" fill="#283246"/><rect x="1353" y="346" width="4" height="4" fill="#2869cd"/><rect x="1357" y="346" width="4" height="4" fill="#be6046"/><rect x="1365" y="346" width="4" height="4" fill="#b04b46"/><rect x="1369" y="346" width="4" height="4" fill="#364052"/><rect x="1377" y="346" width="4" height="4" fill="#283268"/><rect x="1385" y="346" width="4" height="4" fill="#283268"/><rect x="1393" y="346" width="4" height="4" fill="#283268"/><rect x="1269" y="350" width="4" height="4" fill="#73cefd"/><rect x="1273" y="350" width="4" height="4" fill="#283246"/><rect x="1277" y="350" width="4" height="4" fill="#283246"/><rect x="1285" y="350" width="4" height="4" fill="#85d8ff"/><rect x="1289" y="350" width="4" height="4" fill="#f5cd94"/><rect x="1293" y="350" width="4" height="4" fill="#283246"/><rect x="1305" y="350" width="4" height="4" fill="#2884db"/><rect x="1309" y="350" width="4" height="4" fill="#fad190"/><rect x="1313" y="350" width="4" height="4" fill="#283248"/><rect x="1329" y="350" width="4" height="4" fill="#74cbf5"/><rect x="1333" y="350" width="4" height="4" fill="#283246"/><rect x="1349" y="350" width="4" height="4" fill="#283246"/><rect x="1353" y="350" width="4" height="4" fill="#286bcd"/><rect x="1357" y="350" width="4" height="4" fill="#be6046"/><rect x="1369" y="350" width="4" height="4" fill="#283246"/><rect x="1281" y="354" width="4" height="4" fill="#4b4763"/><rect x="424" y="391" width="4" height="4" fill="#dc914a"/><rect x="432" y="391" width="4" height="4" fill="#353246"/><rect x="460" y="391" width="4" height="4" fill="#2868c6"/><rect x="464" y="391" width="4" height="4" fill="#283246"/><rect x="468" y="391" width="4" height="4" fill="#b75546"/><rect x="476" y="391" width="4" height="4" fill="#a0a9bd"/><rect x="492" y="391" width="4" height="4" fill="#9b9fa9"/><rect x="516" y="391" width="4" height="4" fill="#9db2d4"/><rect x="528" y="391" width="4" height="4" fill="#c5adac"/><rect x="536" y="391" width="4" height="4" fill="#c4acaf"/><rect x="544" y="391" width="4" height="4" fill="#603246"/><rect x="548" y="391" width="4" height="4" fill="#a0a9bd"/><rect x="556" y="391" width="4" height="4" fill="#aea4b6"/><rect x="580" y="391" width="4" height="4" fill="#b8acaf"/><rect x="588" y="391" width="4" height="4" fill="#62c4fa"/><rect x="424" y="395" width="4" height="4" fill="#283246"/><rect x="436" y="395" width="4" height="4" fill="#483246"/><rect x="460" y="395" width="4" height="4" fill="#cf8046"/><rect x="468" y="395" width="4" height="4" fill="#b75546"/><rect x="472" y="395" width="4" height="4" fill="#603246"/><rect x="480" y="395" width="4" height="4" fill="#eca74f"/><rect x="492" y="395" width="4" height="4" fill="#543246"/><rect x="512" y="395" width="4" height="4" fill="#8a3346"/><rect x="524" y="395" width="4" height="4" fill="#2874d3"/><rect x="528" y="395" width="4" height="4" fill="#4eb6f4"/><rect x="532" y="395" width="4" height="4" fill="#6ccafc"/><rect x="536" y="395" width="4" height="4" fill="#4e3246"/><rect x="544" y="395" width="4" height="4" fill="#603246"/><rect x="560" y="395" width="4" height="4" fill="#fbc87f"/><rect x="564" y="395" width="4" height="4" fill="#ae4746"/><rect x="584" y="395" width="4" height="4" fill="#283289"/><rect x="588" y="395" width="4" height="4" fill="#62c4fa"/><rect x="428" y="399" width="4" height="4" fill="#283246"/><rect x="432" y="399" width="4" height="4" fill="#3f89cc"/><rect x="440" y="399" width="4" height="4" fill="#283246"/><rect x="448" y="399" width="4" height="4" fill="#283246"/><rect x="464" y="399" width="4" height="4" fill="#eeb269"/><rect x="468" y="399" width="4" height="4" fill="#b75546"/><rect x="472" y="399" width="4" height="4" fill="#603246"/><rect x="484" y="399" width="4" height="4" fill="#283246"/><rect x="492" y="399" width="4" height="4" fill="#283246"/><rect x="504" y="399" width="4" height="4" fill="#283246"/><rect x="508" y="399" width="4" height="4" fill="#89d3f9"/><rect x="516" y="399" width="4" height="4" fill="#2859bb"/><rect x="524" y="399" width="4" height="4" fill="#c86e46"/><rect x="532" y="399" width="4" height="4" fill="#283246"/><rect x="536" y="399" width="4" height="4" fill="#4a3246"/><rect x="544" y="399" width="4" height="4" fill="#603246"/><rect x="560" y="399" width="4" height="4" fill="#283ca8"/><rect x="568" y="399" width="4" height="4" fill="#283246"/><rect x="580" y="399" width="4" height="4" fill="#283246"/><rect x="584" y="399" width="4" height="4" fill="#283289"/><rect x="588" y="399" width="4" height="4" fill="#62c4fa"/><rect x="552" y="403" width="4" height="4" fill="#50445d"/><rect x="556" y="403" width="4" height="4" fill="#ae745e"/><rect x="568" y="403" width="4" height="4" fill="#3c4d6b"/><rect x="580" y="403" width="4" height="4" fill="#61545a"/><rect x="497" y="414" width="4" height="4" fill="#613246"/><rect x="501" y="414" width="4" height="4" fill="#bd5e46"/><rect x="505" y="414" width="4" height="4" fill="#a6a5b2"/><rect x="517" y="414" width="4" height="4" fill="#c4b1af"/><rect x="497" y="418" width="4" height="4" fill="#833246"/><rect x="501" y="418" width="4" height="4" fill="#bd5e46"/><rect x="521" y="418" width="4" height="4" fill="#51b9f6"/><rect x="497" y="422" width="4" height="4" fill="#bf6446"/><rect x="501" y="422" width="4" height="4" fill="#bd5e46"/><rect x="517" y="422" width="4" height="4" fill="#283246"/><rect x="509" y="426" width="4" height="4" fill="#7d5554"/><rect x="661" y="403" width="4" height="4" fill="#b9a7a7"/><rect x="665" y="403" width="4" height="4" fill="#9b9fa9"/><rect x="669" y="403" width="4" height="4" fill="#613246"/><rect x="673" y="403" width="4" height="4" fill="#bd5e46"/><rect x="677" y="403" width="4" height="4" fill="#a6a5b2"/><rect x="709" y="403" width="4" height="4" fill="#e29c52"/><rect x="717" y="403" width="4" height="4" fill="#283246"/><rect x="737" y="403" width="4" height="4" fill="#b6abae"/><rect x="745" y="403" width="4" height="4" fill="#62c4fa"/><rect x="749" y="403" width="4" height="4" fill="#aba1b3"/><rect x="757" y="403" width="4" height="4" fill="#a5a3bb"/><rect x="761" y="403" width="4" height="4" fill="#63c4f5"/><rect x="781" y="403" width="4" height="4" fill="#a2aabe"/><rect x="789" y="403" width="4" height="4" fill="#aea8ae"/><rect x="797" y="403" width="4" height="4" fill="#813346"/><rect x="813" y="403" width="4" height="4" fill="#2866c7"/><rect x="825" y="403" width="4" height="4" fill="#9b9fa9"/><rect x="853" y="403" width="4" height="4" fill="#a7a6b3"/><rect x="857" y="403" width="4" height="4" fill="#2872d2"/><rect x="873" y="403" width="4" height="4" fill="#bcafac"/><rect x="885" y="403" width="4" height="4" fill="#a5a6b2"/><rect x="665" y="407" width="4" height="4" fill="#81d3fc"/><rect x="669" y="407" width="4" height="4" fill="#833246"/><rect x="673" y="407" width="4" height="4" fill="#bd5e46"/><rect x="689" y="407" width="4" height="4" fill="#55bcf7"/><rect x="697" y="407" width="4" height="4" fill="#523246"/><rect x="709" y="407" width="4" height="4" fill="#283246"/><rect x="721" y="407" width="4" height="4" fill="#283246"/><rect x="741" y="407" width="4" height="4" fill="#283289"/><rect x="745" y="407" width="4" height="4" fill="#283246"/><rect x="753" y="407" width="4" height="4" fill="#d48546"/><rect x="761" y="407" width="4" height="4" fill="#59bef8"/><rect x="765" y="407" width="4" height="4" fill="#b45046"/><rect x="777" y="407" width="4" height="4" fill="#b04b46"/><rect x="781" y="407" width="4" height="4" fill="#364052"/><rect x="785" y="407" width="4" height="4" fill="#c1d7ab"/><rect x="793" y="407" width="4" height="4" fill="#2865ca"/><rect x="805" y="407" width="4" height="4" fill="#2854c0"/><rect x="809" y="407" width="4" height="4" fill="#6bc9fc"/><rect x="817" y="407" width="4" height="4" fill="#543c46"/><rect x="825" y="407" width="4" height="4" fill="#283246"/><rect x="845" y="407" width="4" height="4" fill="#55bcf7"/><rect x="857" y="407" width="4" height="4" fill="#2872d2"/><rect x="861" y="407" width="4" height="4" fill="#57bdf7"/><rect x="865" y="407" width="4" height="4" fill="#623246"/><rect x="869" y="407" width="4" height="4" fill="#283246"/><rect x="881" y="407" width="4" height="4" fill="#eca750"/><rect x="889" y="407" width="4" height="4" fill="#53baf6"/><rect x="901" y="407" width="4" height="4" fill="#55bcf7"/><rect x="661" y="411" width="4" height="4" fill="#283246"/><rect x="665" y="411" width="4" height="4" fill="#283246"/><rect x="669" y="411" width="4" height="4" fill="#bf6446"/><rect x="673" y="411" width="4" height="4" fill="#bd5e46"/><rect x="689" y="411" width="4" height="4" fill="#55bcf7"/><rect x="693" y="411" width="4" height="4" fill="#473746"/><rect x="697" y="411" width="4" height="4" fill="#286bc3"/><rect x="713" y="411" width="4" height="4" fill="#283246"/><rect x="717" y="411" width="4" height="4" fill="#70b7eb"/><rect x="721" y="411" width="4" height="4" fill="#283246"/><rect x="737" y="411" width="4" height="4" fill="#283246"/><rect x="741" y="411" width="4" height="4" fill="#283289"/><rect x="745" y="411" width="4" height="4" fill="#62c4fa"/><rect x="749" y="411" width="4" height="4" fill="#28324f"/><rect x="757" y="411" width="4" height="4" fill="#283271"/><rect x="761" y="411" width="4" height="4" fill="#42554c"/><rect x="765" y="411" width="4" height="4" fill="#283282"/><rect x="781" y="411" width="4" height="4" fill="#283246"/><rect x="789" y="411" width="4" height="4" fill="#283246"/><rect x="797" y="411" width="4" height="4" fill="#2876d1"/><rect x="801" y="411" width="4" height="4" fill="#3e4e71"/><rect x="805" y="411" width="4" height="4" fill="#554b5b"/><rect x="813" y="411" width="4" height="4" fill="#283246"/><rect x="817" y="411" width="4" height="4" fill="#283246"/><rect x="821" y="411" width="4" height="4" fill="#ffe0a2"/><rect x="825" y="411" width="4" height="4" fill="#283246"/><rect x="833" y="411" width="4" height="4" fill="#283246"/><rect x="845" y="411" width="4" height="4" fill="#55bcf7"/><rect x="853" y="411" width="4" height="4" fill="#283246"/><rect x="857" y="411" width="4" height="4" fill="#2870d0"/><rect x="861" y="411" width="4" height="4" fill="#58bef7"/><rect x="865" y="411" width="4" height="4" fill="#623246"/><rect x="869" y="411" width="4" height="4" fill="#283246"/><rect x="877" y="411" width="4" height="4" fill="#283257"/><rect x="885" y="411" width="4" height="4" fill="#283246"/><rect x="901" y="411" width="4" height="4" fill="#55bcf7"/><rect x="905" y="411" width="4" height="4" fill="#283246"/><rect x="909" y="411" width="4" height="4" fill="#89d3f9"/><rect x="701" y="415" width="4" height="4" fill="#323b4e"/><rect x="705" y="415" width="4" height="4" fill="#323b4e"/><rect x="741" y="415" width="4" height="4" fill="#426ab0"/><rect x="769" y="415" width="4" height="4" fill="#323b4e"/><rect x="773" y="415" width="4" height="4" fill="#323b4e"/><rect x="873" y="415" width="4" height="4" fill="#e1ab7b"/><rect x="1241" y="392" width="4" height="4" fill="#603246"/><rect x="1245" y="392" width="4" height="4" fill="#a0a9bd"/><rect x="1273" y="392" width="4" height="4" fill="#a5a3bb"/><rect x="1289" y="392" width="4" height="4" fill="#c5adac"/><rect x="1297" y="392" width="4" height="4" fill="#28328e"/><rect x="1301" y="392" width="4" height="4" fill="#503246"/><rect x="1309" y="392" width="4" height="4" fill="#9b9fa9"/><rect x="1353" y="392" width="4" height="4" fill="#9eb6da"/><rect x="1357" y="392" width="4" height="4" fill="#b6abae"/><rect x="1361" y="392" width="4" height="4" fill="#283289"/><rect x="1373" y="392" width="4" height="4" fill="#b2a8b9"/><rect x="1381" y="392" width="4" height="4" fill="#2877d5"/><rect x="1413" y="392" width="4" height="4" fill="#a1a4b2"/><rect x="1241" y="396" width="4" height="4" fill="#603246"/><rect x="1249" y="396" width="4" height="4" fill="#eca74f"/><rect x="1265" y="396" width="4" height="4" fill="#287cd7"/><rect x="1269" y="396" width="4" height="4" fill="#d48546"/><rect x="1277" y="396" width="4" height="4" fill="#283246"/><rect x="1285" y="396" width="4" height="4" fill="#2874d3"/><rect x="1289" y="396" width="4" height="4" fill="#4eb6f4"/><rect x="1297" y="396" width="4" height="4" fill="#283246"/><rect x="1301" y="396" width="4" height="4" fill="#2e8edd"/><rect x="1309" y="396" width="4" height="4" fill="#543246"/><rect x="1325" y="396" width="4" height="4" fill="#283246"/><rect x="1333" y="396" width="4" height="4" fill="#283246"/><rect x="1345" y="396" width="4" height="4" fill="#283246"/><rect x="1361" y="396" width="4" height="4" fill="#283289"/><rect x="1365" y="396" width="4" height="4" fill="#98e3ff"/><rect x="1369" y="396" width="4" height="4" fill="#4a3246"/><rect x="1373" y="396" width="4" height="4" fill="#57bdf7"/><rect x="1381" y="396" width="4" height="4" fill="#2858a8"/><rect x="1397" y="396" width="4" height="4" fill="#efaf5a"/><rect x="1401" y="396" width="4" height="4" fill="#283246"/><rect x="1413" y="396" width="4" height="4" fill="#283246"/><rect x="1241" y="400" width="4" height="4" fill="#603246"/><rect x="1253" y="400" width="4" height="4" fill="#283246"/><rect x="1261" y="400" width="4" height="4" fill="#283246"/><rect x="1265" y="400" width="4" height="4" fill="#2879d6"/><rect x="1273" y="400" width="4" height="4" fill="#283271"/><rect x="1277" y="400" width="4" height="4" fill="#283246"/><rect x="1281" y="400" width="4" height="4" fill="#358dd9"/><rect x="1285" y="400" width="4" height="4" fill="#c86e46"/><rect x="1297" y="400" width="4" height="4" fill="#28328e"/><rect x="1309" y="400" width="4" height="4" fill="#283246"/><rect x="1329" y="400" width="4" height="4" fill="#9de2ff"/><rect x="1337" y="400" width="4" height="4" fill="#73caf9"/><rect x="1357" y="400" width="4" height="4" fill="#283246"/><rect x="1361" y="400" width="4" height="4" fill="#283286"/><rect x="1365" y="400" width="4" height="4" fill="#283246"/><rect x="1369" y="400" width="4" height="4" fill="#ffdfa0"/><rect x="1381" y="400" width="4" height="4" fill="#283246"/><rect x="1385" y="400" width="4" height="4" fill="#283246"/><rect x="1397" y="400" width="4" height="4" fill="#efaf5a"/><rect x="1401" y="400" width="4" height="4" fill="#da9454"/><rect x="1405" y="400" width="4" height="4" fill="#28325d"/><rect x="1413" y="400" width="4" height="4" fill="#283246"/><rect x="1417" y="400" width="4" height="4" fill="#285da7"/><rect x="1253" y="404" width="4" height="4" fill="#3c465f"/><rect x="1389" y="404" width="4" height="4" fill="#7d5554"/><rect x="1393" y="404" width="4" height="4" fill="#50445d"/><rect x="1397" y="404" width="4" height="4" fill="#3b4b71"/><rect x="1329" y="415" width="4" height="4" fill="#9fa9bc"/><rect x="1317" y="419" width="4" height="4" fill="#283246"/><rect x="1329" y="419" width="4" height="4" fill="#283e6b"/><rect x="1333" y="419" width="4" height="4" fill="#ffe5a9"/><rect x="1317" y="423" width="4" height="4" fill="#d38949"/><rect x="1321" y="423" width="4" height="4" fill="#283974"/><rect x="1329" y="423" width="4" height="4" fill="#283246"/><rect x="1337" y="423" width="4" height="4" fill="#283246"/><rect x="1321" y="427" width="4" height="4" fill="#4e6e9b"/><rect x="486" y="466" width="4" height="4" fill="#9b9fa9"/><rect x="502" y="466" width="4" height="4" fill="#beb1b0"/><rect x="518" y="466" width="4" height="4" fill="#b3a8b6"/><rect x="522" y="466" width="4" height="4" fill="#3177a5"/><rect x="534" y="466" width="4" height="4" fill="#b2a8b9"/><rect x="554" y="466" width="4" height="4" fill="#c6aeae"/><rect x="562" y="466" width="4" height="4" fill="#a6a1b8"/><rect x="458" y="470" width="4" height="4" fill="#283246"/><rect x="470" y="470" width="4" height="4" fill="#283257"/><rect x="486" y="470" width="4" height="4" fill="#543246"/><rect x="506" y="470" width="4" height="4" fill="#28327d"/><rect x="510" y="470" width="4" height="4" fill="#98e3ff"/><rect x="514" y="470" width="4" height="4" fill="#4a3246"/><rect x="518" y="470" width="4" height="4" fill="#57bdf7"/><rect x="522" y="470" width="4" height="4" fill="#61c3f9"/><rect x="526" y="470" width="4" height="4" fill="#98e3ff"/><rect x="530" y="470" width="4" height="4" fill="#4a3246"/><rect x="534" y="470" width="4" height="4" fill="#57bdf7"/><rect x="538" y="470" width="4" height="4" fill="#283246"/><rect x="542" y="470" width="4" height="4" fill="#28325d"/><rect x="546" y="470" width="4" height="4" fill="#286dcf"/><rect x="554" y="470" width="4" height="4" fill="#543246"/><rect x="558" y="470" width="4" height="4" fill="#283262"/><rect x="562" y="470" width="4" height="4" fill="#bbd5ad"/><rect x="566" y="470" width="4" height="4" fill="#2b3246"/><rect x="458" y="474" width="4" height="4" fill="#d38949"/><rect x="462" y="474" width="4" height="4" fill="#283974"/><rect x="466" y="474" width="4" height="4" fill="#eaaa61"/><rect x="482" y="474" width="4" height="4" fill="#285fa0"/><rect x="486" y="474" width="4" height="4" fill="#283246"/><rect x="502" y="474" width="4" height="4" fill="#283246"/><rect x="510" y="474" width="4" height="4" fill="#283246"/><rect x="514" y="474" width="4" height="4" fill="#ffdfa0"/><rect x="522" y="474" width="4" height="4" fill="#61c3f9"/><rect x="526" y="474" width="4" height="4" fill="#283246"/><rect x="530" y="474" width="4" height="4" fill="#ffdfa0"/><rect x="538" y="474" width="4" height="4" fill="#283246"/><rect x="542" y="474" width="4" height="4" fill="#283246"/><rect x="546" y="474" width="4" height="4" fill="#8c4446"/><rect x="550" y="474" width="4" height="4" fill="#283246"/><rect x="554" y="474" width="4" height="4" fill="#543246"/><rect x="558" y="474" width="4" height="4" fill="#f3b766"/><rect x="566" y="474" width="4" height="4" fill="#7bd2ff"/><rect x="462" y="478" width="4" height="4" fill="#4e6e9b"/><rect x="692" y="464" width="4" height="4" fill="#cbb1ab"/><rect x="712" y="464" width="4" height="4" fill="#c2afae"/><rect x="724" y="464" width="4" height="4" fill="#3177a5"/><rect x="732" y="464" width="4" height="4" fill="#28328e"/><rect x="772" y="464" width="4" height="4" fill="#283288"/><rect x="816" y="464" width="4" height="4" fill="#c3acae"/><rect x="828" y="464" width="4" height="4" fill="#b6aaad"/><rect x="856" y="464" width="4" height="4" fill="#b6abae"/><rect x="872" y="464" width="4" height="4" fill="#c3acae"/><rect x="684" y="468" width="4" height="4" fill="#eec599"/><rect x="688" y="468" width="4" height="4" fill="#283246"/><rect x="704" y="468" width="4" height="4" fill="#283257"/><rect x="720" y="468" width="4" height="4" fill="#3bacf0"/><rect x="724" y="468" width="4" height="4" fill="#61c3f9"/><rect x="732" y="468" width="4" height="4" fill="#283275"/><rect x="736" y="468" width="4" height="4" fill="#c2b5a6"/><rect x="748" y="468" width="4" height="4" fill="#287cd7"/><rect x="752" y="468" width="4" height="4" fill="#283a54"/><rect x="756" y="468" width="4" height="4" fill="#283246"/><rect x="760" y="468" width="4" height="4" fill="#3a3246"/><rect x="764" y="468" width="4" height="4" fill="#38a8ef"/><rect x="768" y="468" width="4" height="4" fill="#e39846"/><rect x="772" y="468" width="4" height="4" fill="#b04c46"/><rect x="776" y="468" width="4" height="4" fill="#283246"/><rect x="784" y="468" width="4" height="4" fill="#f3b664"/><rect x="804" y="468" width="4" height="4" fill="#283246"/><rect x="808" y="468" width="4" height="4" fill="#283250"/><rect x="812" y="468" width="4" height="4" fill="#303246"/><rect x="816" y="468" width="4" height="4" fill="#4a3246"/><rect x="824" y="468" width="4" height="4" fill="#f3b664"/><rect x="844" y="468" width="4" height="4" fill="#2864c9"/><rect x="848" y="468" width="4" height="4" fill="#283246"/><rect x="860" y="468" width="4" height="4" fill="#283289"/><rect x="864" y="468" width="4" height="4" fill="#633e46"/><rect x="868" y="468" width="4" height="4" fill="#283246"/><rect x="872" y="468" width="4" height="4" fill="#4a3246"/><rect x="684" y="472" width="4" height="4" fill="#833446"/><rect x="688" y="472" width="4" height="4" fill="#286fb1"/><rect x="696" y="472" width="4" height="4" fill="#283249"/><rect x="700" y="472" width="4" height="4" fill="#eaaa61"/><rect x="720" y="472" width="4" height="4" fill="#3bacf0"/><rect x="724" y="472" width="4" height="4" fill="#61c3f9"/><rect x="728" y="472" width="4" height="4" fill="#2842b7"/><rect x="732" y="472" width="4" height="4" fill="#283246"/><rect x="736" y="472" width="4" height="4" fill="#283246"/><rect x="744" y="472" width="4" height="4" fill="#283246"/><rect x="748" y="472" width="4" height="4" fill="#2879d6"/><rect x="752" y="472" width="4" height="4" fill="#283246"/><rect x="756" y="472" width="4" height="4" fill="#28348b"/><rect x="760" y="472" width="4" height="4" fill="#d28046"/><rect x="764" y="472" width="4" height="4" fill="#a77c69"/><rect x="776" y="472" width="4" height="4" fill="#da9454"/><rect x="780" y="472" width="4" height="4" fill="#28325d"/><rect x="784" y="472" width="4" height="4" fill="#f3b664"/><rect x="792" y="472" width="4" height="4" fill="#283246"/><rect x="800" y="472" width="4" height="4" fill="#283246"/><rect x="804" y="472" width="4" height="4" fill="#90d6fa"/><rect x="808" y="472" width="4" height="4" fill="#4d3246"/><rect x="812" y="472" width="4" height="4" fill="#28324e"/><rect x="816" y="472" width="4" height="4" fill="#d88d49"/><rect x="820" y="472" width="4" height="4" fill="#283271"/><rect x="824" y="472" width="4" height="4" fill="#f3b664"/><rect x="840" y="472" width="4" height="4" fill="#283246"/><rect x="852" y="472" width="4" height="4" fill="#2883d8"/><rect x="856" y="472" width="4" height="4" fill="#283246"/><rect x="860" y="472" width="4" height="4" fill="#283289"/><rect x="864" y="472" width="4" height="4" fill="#283246"/><rect x="868" y="472" width="4" height="4" fill="#a46446"/><rect x="872" y="472" width="4" height="4" fill="#d88d49"/><rect x="876" y="472" width="4" height="4" fill="#283271"/><rect x="832" y="476" width="4" height="4" fill="#be7d61"/><rect x="860" y="476" width="4" height="4" fill="#426ab0"/><rect x="1277" y="465" width="4" height="4" fill="#aa4746"/><rect x="1285" y="465" width="4" height="4" fill="#2871d1"/><rect x="1305" y="465" width="4" height="4" fill="#fff9d4"/><rect x="1313" y="465" width="4" height="4" fill="#cb7446"/><rect x="1317" y="465" width="4" height="4" fill="#3a3246"/><rect x="1321" y="465" width="4" height="4" fill="#fff8d1"/><rect x="1329" y="465" width="4" height="4" fill="#323246"/><rect x="1341" y="465" width="4" height="4" fill="#3ba7ed"/><rect x="1349" y="465" width="4" height="4" fill="#283246"/><rect x="1353" y="465" width="4" height="4" fill="#fff7d4"/><rect x="1361" y="465" width="4" height="4" fill="#f5bc6d"/><rect x="1369" y="465" width="4" height="4" fill="#283283"/><rect x="1373" y="465" width="4" height="4" fill="#e6a04e"/><rect x="1381" y="465" width="4" height="4" fill="#adc4df"/><rect x="1281" y="469" width="4" height="4" fill="#b39d90"/><rect x="1285" y="469" width="4" height="4" fill="#409ee5"/><rect x="1301" y="469" width="4" height="4" fill="#2850ba"/><rect x="1309" y="469" width="4" height="4" fill="#288bdf"/><rect x="1313" y="469" width="4" height="4" fill="#2886dc"/><rect x="1321" y="469" width="4" height="4" fill="#957555"/><rect x="1325" y="469" width="4" height="4" fill="#ffeec0"/><rect x="1337" y="469" width="4" height="4" fill="#386483"/><rect x="1341" y="469" width="4" height="4" fill="#28329a"/><rect x="1353" y="469" width="4" height="4" fill="#42a8ec"/><rect x="1361" y="469" width="4" height="4" fill="#f5bc6d"/><rect x="1369" y="469" width="4" height="4" fill="#283246"/><rect x="1373" y="469" width="4" height="4" fill="#874a46"/><rect x="1377" y="469" width="4" height="4" fill="#ebb77c"/><rect x="1381" y="469" width="4" height="4" fill="#4b73a2"/><rect x="1277" y="473" width="4" height="4" fill="#f5d19e"/><rect x="1281" y="473" width="4" height="4" fill="#283246"/><rect x="1285" y="473" width="4" height="4" fill="#b7e8fe"/><rect x="1301" y="473" width="4" height="4" fill="#d6ffff"/><rect x="1309" y="473" width="4" height="4" fill="#d27f46"/><rect x="1317" y="473" width="4" height="4" fill="#dea267"/><rect x="1321" y="473" width="4" height="4" fill="#283246"/><rect x="1337" y="473" width="4" height="4" fill="#283246"/><rect x="1353" y="473" width="4" height="4" fill="#7bd3ff"/><rect x="1361" y="473" width="4" height="4" fill="#f5bc6d"/><rect x="1369" y="473" width="4" height="4" fill="#5b3246"/><rect x="1373" y="473" width="4" height="4" fill="#283246"/><rect x="1377" y="473" width="4" height="4" fill="#c27946"/><rect x="1381" y="473" width="4" height="4" fill="#283246"/><rect x="514" y="522" width="4" height="4" fill="#a0a9bd"/><rect x="510" y="526" width="4" height="4" fill="#603246"/><rect x="510" y="530" width="4" height="4" fill="#603246"/><rect x="684" y="522" width="4" height="4" fill="#cbb1ab"/><rect x="696" y="522" width="4" height="4" fill="#996b46"/><rect x="704" y="522" width="4" height="4" fill="#d9b9ad"/><rect x="708" y="522" width="4" height="4" fill="#9b9fa9"/><rect x="712" y="522" width="4" height="4" fill="#b75546"/><rect x="716" y="522" width="4" height="4" fill="#563246"/><rect x="728" y="522" width="4" height="4" fill="#a1adc4"/><rect x="752" y="522" width="4" height="4" fill="#a8a7b4"/><rect x="760" y="522" width="4" height="4" fill="#28428b"/><rect x="772" y="522" width="4" height="4" fill="#e0984f"/><rect x="780" y="522" width="4" height="4" fill="#413246"/><rect x="784" y="522" width="4" height="4" fill="#bb9773"/><rect x="800" y="522" width="4" height="4" fill="#b2aaad"/><rect x="808" y="522" width="4" height="4" fill="#2e3246"/><rect x="828" y="522" width="4" height="4" fill="#9eb1d2"/><rect x="832" y="522" width="4" height="4" fill="#b6abae"/><rect x="836" y="522" width="4" height="4" fill="#283289"/><rect x="856" y="522" width="4" height="4" fill="#c5adac"/><rect x="860" y="522" width="4" height="4" fill="#62c4fa"/><rect x="864" y="522" width="4" height="4" fill="#aba1b3"/><rect x="872" y="522" width="4" height="4" fill="#c9afac"/><rect x="888" y="522" width="4" height="4" fill="#a5a3bb"/><rect x="892" y="522" width="4" height="4" fill="#62c4fa"/><rect x="668" y="526" width="4" height="4" fill="#283246"/><rect x="676" y="526" width="4" height="4" fill="#283246"/><rect x="696" y="526" width="4" height="4" fill="#f0b15d"/><rect x="708" y="526" width="4" height="4" fill="#2c90df"/><rect x="712" y="526" width="4" height="4" fill="#b75546"/><rect x="716" y="526" width="4" height="4" fill="#563246"/><rect x="724" y="526" width="4" height="4" fill="#563246"/><rect x="744" y="526" width="4" height="4" fill="#283246"/><rect x="756" y="526" width="4" height="4" fill="#2872d2"/><rect x="760" y="526" width="4" height="4" fill="#2872d2"/><rect x="772" y="526" width="4" height="4" fill="#283246"/><rect x="780" y="526" width="4" height="4" fill="#283246"/><rect x="788" y="526" width="4" height="4" fill="#ffe5a9"/><rect x="800" y="526" width="4" height="4" fill="#283246"/><rect x="816" y="526" width="4" height="4" fill="#41aff1"/><rect x="836" y="526" width="4" height="4" fill="#283289"/><rect x="840" y="526" width="4" height="4" fill="#283246"/><rect x="848" y="526" width="4" height="4" fill="#2876d4"/><rect x="852" y="526" width="4" height="4" fill="#2874d3"/><rect x="856" y="526" width="4" height="4" fill="#4eb6f4"/><rect x="860" y="526" width="4" height="4" fill="#283246"/><rect x="868" y="526" width="4" height="4" fill="#284db8"/><rect x="872" y="526" width="4" height="4" fill="#54bbf6"/><rect x="876" y="526" width="4" height="4" fill="#283246"/><rect x="884" y="526" width="4" height="4" fill="#d48546"/><rect x="892" y="526" width="4" height="4" fill="#62c4fa"/><rect x="900" y="526" width="4" height="4" fill="#28327f"/><rect x="668" y="530" width="4" height="4" fill="#f2c58a"/><rect x="672" y="530" width="4" height="4" fill="#283246"/><rect x="676" y="530" width="4" height="4" fill="#d38949"/><rect x="680" y="530" width="4" height="4" fill="#283974"/><rect x="688" y="530" width="4" height="4" fill="#283249"/><rect x="696" y="530" width="4" height="4" fill="#f0b15d"/><rect x="704" y="530" width="4" height="4" fill="#433246"/><rect x="708" y="530" width="4" height="4" fill="#283246"/><rect x="712" y="530" width="4" height="4" fill="#b75546"/><rect x="716" y="530" width="4" height="4" fill="#563246"/><rect x="720" y="530" width="4" height="4" fill="#ecaf67"/><rect x="724" y="530" width="4" height="4" fill="#563246"/><rect x="728" y="530" width="4" height="4" fill="#283246"/><rect x="748" y="530" width="4" height="4" fill="#9de2ff"/><rect x="752" y="530" width="4" height="4" fill="#283246"/><rect x="756" y="530" width="4" height="4" fill="#2872d2"/><rect x="760" y="530" width="4" height="4" fill="#2872d2"/><rect x="776" y="530" width="4" height="4" fill="#283246"/><rect x="780" y="530" width="4" height="4" fill="#284286"/><rect x="792" y="530" width="4" height="4" fill="#283246"/><rect x="800" y="530" width="4" height="4" fill="#283246"/><rect x="808" y="530" width="4" height="4" fill="#64c2f7"/><rect x="812" y="530" width="4" height="4" fill="#435f8d"/><rect x="816" y="530" width="4" height="4" fill="#424966"/><rect x="824" y="530" width="4" height="4" fill="#283246"/><rect x="832" y="530" width="4" height="4" fill="#283246"/><rect x="836" y="530" width="4" height="4" fill="#283286"/><rect x="840" y="530" width="4" height="4" fill="#283246"/><rect x="844" y="530" width="4" height="4" fill="#2848a1"/><rect x="848" y="530" width="4" height="4" fill="#2876d4"/><rect x="852" y="530" width="4" height="4" fill="#c86e46"/><rect x="860" y="530" width="4" height="4" fill="#62c4fa"/><rect x="864" y="530" width="4" height="4" fill="#28324f"/><rect x="868" y="530" width="4" height="4" fill="#efaf5f"/><rect x="876" y="530" width="4" height="4" fill="#283246"/><rect x="880" y="530" width="4" height="4" fill="#358dd9"/><rect x="888" y="530" width="4" height="4" fill="#283271"/><rect x="892" y="530" width="4" height="4" fill="#62c4fa"/><rect x="900" y="530" width="4" height="4" fill="#28327f"/><rect x="680" y="534" width="4" height="4" fill="#4e6e9b"/><rect x="700" y="534" width="4" height="4" fill="#50445d"/><rect x="724" y="534" width="4" height="4" fill="#8e5d5e"/><rect x="752" y="534" width="4" height="4" fill="#4d4957"/><rect x="764" y="534" width="4" height="4" fill="#323b4e"/><rect x="768" y="534" width="4" height="4" fill="#323b4e"/><rect x="868" y="534" width="4" height="4" fill="#7eb5e5"/><rect x="1322" y="522" width="4" height="4" fill="#bbaeaf"/><rect x="1330" y="522" width="4" height="4" fill="#beb1b0"/><rect x="1342" y="522" width="4" height="4" fill="#563246"/><rect x="1346" y="522" width="4" height="4" fill="#283246"/><rect x="1350" y="522" width="4" height="4" fill="#613246"/><rect x="1354" y="522" width="4" height="4" fill="#bd5e46"/><rect x="1358" y="522" width="4" height="4" fill="#a6a5b2"/><rect x="1302" y="526" width="4" height="4" fill="#283246"/><rect x="1310" y="526" width="4" height="4" fill="#ffe5a9"/><rect x="1334" y="526" width="4" height="4" fill="#28327d"/><rect x="1338" y="526" width="4" height="4" fill="#53baf6"/><rect x="1342" y="526" width="4" height="4" fill="#563246"/><rect x="1346" y="526" width="4" height="4" fill="#283246"/><rect x="1350" y="526" width="4" height="4" fill="#833246"/><rect x="1354" y="526" width="4" height="4" fill="#bd5e46"/><rect x="1302" y="530" width="4" height="4" fill="#db9554"/><rect x="1306" y="530" width="4" height="4" fill="#28325b"/><rect x="1314" y="530" width="4" height="4" fill="#283246"/><rect x="1322" y="530" width="4" height="4" fill="#283246"/><rect x="1330" y="530" width="4" height="4" fill="#283246"/><rect x="1338" y="530" width="4" height="4" fill="#58bef7"/><rect x="1342" y="530" width="4" height="4" fill="#563246"/><rect x="1346" y="530" width="4" height="4" fill="#673246"/><rect x="1350" y="530" width="4" height="4" fill="#bf6446"/><rect x="1354" y="530" width="4" height="4" fill="#bd5e46"/><rect x="428" y="584" width="4" height="4" fill="#9b9fa9"/><rect x="436" y="584" width="4" height="4" fill="#a3a8b9"/><rect x="456" y="584" width="4" height="4" fill="#aea8ae"/><rect x="524" y="584" width="4" height="4" fill="#9b9fa9"/><rect x="528" y="584" width="4" height="4" fill="#a1bce2"/><rect x="532" y="584" width="4" height="4" fill="#9b9fa9"/><rect x="536" y="584" width="4" height="4" fill="#a1bce2"/><rect x="544" y="584" width="4" height="4" fill="#a5a3bb"/><rect x="548" y="584" width="4" height="4" fill="#63c4f5"/><rect x="556" y="584" width="4" height="4" fill="#283246"/><rect x="564" y="584" width="4" height="4" fill="#f0b05c"/><rect x="576" y="584" width="4" height="4" fill="#a2b0c9"/><rect x="580" y="584" width="4" height="4" fill="#bc9269"/><rect x="584" y="584" width="4" height="4" fill="#a7a5b1"/><rect x="600" y="584" width="4" height="4" fill="#a2b0c9"/><rect x="416" y="588" width="4" height="4" fill="#603246"/><rect x="428" y="588" width="4" height="4" fill="#28325a"/><rect x="432" y="588" width="4" height="4" fill="#eda953"/><rect x="452" y="588" width="4" height="4" fill="#ffe4a8"/><rect x="460" y="588" width="4" height="4" fill="#2865ca"/><rect x="468" y="588" width="4" height="4" fill="#283246"/><rect x="472" y="588" width="4" height="4" fill="#283266"/><rect x="476" y="588" width="4" height="4" fill="#2867cb"/><rect x="480" y="588" width="4" height="4" fill="#2869cd"/><rect x="484" y="588" width="4" height="4" fill="#be6046"/><rect x="488" y="588" width="4" height="4" fill="#603246"/><rect x="516" y="588" width="4" height="4" fill="#364052"/><rect x="520" y="588" width="4" height="4" fill="#28328c"/><rect x="524" y="588" width="4" height="4" fill="#fedea4"/><rect x="532" y="588" width="4" height="4" fill="#fedea4"/><rect x="540" y="588" width="4" height="4" fill="#d48546"/><rect x="548" y="588" width="4" height="4" fill="#59bef8"/><rect x="552" y="588" width="4" height="4" fill="#b45046"/><rect x="556" y="588" width="4" height="4" fill="#283246"/><rect x="564" y="588" width="4" height="4" fill="#f0b05c"/><rect x="568" y="588" width="4" height="4" fill="#3ba6ec"/><rect x="572" y="588" width="4" height="4" fill="#b14b46"/><rect x="580" y="588" width="4" height="4" fill="#fccb82"/><rect x="584" y="588" width="4" height="4" fill="#ffe0a3"/><rect x="588" y="588" width="4" height="4" fill="#4c3246"/><rect x="596" y="588" width="4" height="4" fill="#b14b46"/><rect x="416" y="592" width="4" height="4" fill="#603246"/><rect x="424" y="592" width="4" height="4" fill="#e9a14a"/><rect x="428" y="592" width="4" height="4" fill="#283246"/><rect x="436" y="592" width="4" height="4" fill="#283246"/><rect x="448" y="592" width="4" height="4" fill="#283246"/><rect x="456" y="592" width="4" height="4" fill="#283246"/><rect x="468" y="592" width="4" height="4" fill="#283246"/><rect x="480" y="592" width="4" height="4" fill="#286bcd"/><rect x="484" y="592" width="4" height="4" fill="#be6046"/><rect x="488" y="592" width="4" height="4" fill="#603246"/><rect x="516" y="592" width="4" height="4" fill="#283246"/><rect x="524" y="592" width="4" height="4" fill="#283246"/><rect x="528" y="592" width="4" height="4" fill="#28509d"/><rect x="532" y="592" width="4" height="4" fill="#283246"/><rect x="536" y="592" width="4" height="4" fill="#28509d"/><rect x="544" y="592" width="4" height="4" fill="#283271"/><rect x="548" y="592" width="4" height="4" fill="#42554c"/><rect x="552" y="592" width="4" height="4" fill="#283282"/><rect x="556" y="592" width="4" height="4" fill="#283246"/><rect x="564" y="592" width="4" height="4" fill="#f0b05c"/><rect x="576" y="592" width="4" height="4" fill="#283246"/><rect x="588" y="592" width="4" height="4" fill="#5bbff8"/><rect x="592" y="592" width="4" height="4" fill="#283246"/><rect x="600" y="592" width="4" height="4" fill="#283246"/><rect x="472" y="596" width="4" height="4" fill="#598ac1"/><rect x="496" y="596" width="4" height="4" fill="#50445d"/><rect x="636" y="584" width="4" height="4" fill="#c6aeae"/><rect x="648" y="584" width="4" height="4" fill="#963946"/><rect x="656" y="584" width="4" height="4" fill="#283251"/><rect x="668" y="584" width="4" height="4" fill="#d1b4af"/><rect x="712" y="584" width="4" height="4" fill="#9ca9c7"/><rect x="748" y="584" width="4" height="4" fill="#aea8ae"/><rect x="764" y="584" width="4" height="4" fill="#a2b1d2"/><rect x="808" y="584" width="4" height="4" fill="#a3a8b9"/><rect x="816" y="584" width="4" height="4" fill="#a5a6b2"/><rect x="828" y="584" width="4" height="4" fill="#a0a4b2"/><rect x="840" y="584" width="4" height="4" fill="#b6abae"/><rect x="844" y="584" width="4" height="4" fill="#283289"/><rect x="860" y="584" width="4" height="4" fill="#66c6fa"/><rect x="888" y="584" width="4" height="4" fill="#b6abae"/><rect x="904" y="584" width="4" height="4" fill="#283246"/><rect x="924" y="584" width="4" height="4" fill="#c1aaaf"/><rect x="628" y="588" width="4" height="4" fill="#b65746"/><rect x="632" y="588" width="4" height="4" fill="#6f3246"/><rect x="636" y="588" width="4" height="4" fill="#543246"/><rect x="640" y="588" width="4" height="4" fill="#c9956e"/><rect x="644" y="588" width="4" height="4" fill="#283246"/><rect x="660" y="588" width="4" height="4" fill="#36a6ed"/><rect x="664" y="588" width="4" height="4" fill="#af4c46"/><rect x="668" y="588" width="4" height="4" fill="#2869cc"/><rect x="676" y="588" width="4" height="4" fill="#b45046"/><rect x="680" y="588" width="4" height="4" fill="#28328c"/><rect x="684" y="588" width="4" height="4" fill="#ffe5aa"/><rect x="704" y="588" width="4" height="4" fill="#2864c9"/><rect x="708" y="588" width="4" height="4" fill="#293246"/><rect x="720" y="588" width="4" height="4" fill="#283246"/><rect x="724" y="588" width="4" height="4" fill="#283281"/><rect x="728" y="588" width="4" height="4" fill="#f3b766"/><rect x="732" y="588" width="4" height="4" fill="#b65746"/><rect x="736" y="588" width="4" height="4" fill="#6f3246"/><rect x="740" y="588" width="4" height="4" fill="#603246"/><rect x="744" y="588" width="4" height="4" fill="#ffe4a8"/><rect x="752" y="588" width="4" height="4" fill="#2865ca"/><rect x="760" y="588" width="4" height="4" fill="#283288"/><rect x="780" y="588" width="4" height="4" fill="#284fbe"/><rect x="784" y="588" width="4" height="4" fill="#53baf6"/><rect x="788" y="588" width="4" height="4" fill="#eec599"/><rect x="792" y="588" width="4" height="4" fill="#283246"/><rect x="800" y="588" width="4" height="4" fill="#283257"/><rect x="804" y="588" width="4" height="4" fill="#eda953"/><rect x="812" y="588" width="4" height="4" fill="#eca750"/><rect x="820" y="588" width="4" height="4" fill="#53baf6"/><rect x="828" y="588" width="4" height="4" fill="#283254"/><rect x="844" y="588" width="4" height="4" fill="#283289"/><rect x="848" y="588" width="4" height="4" fill="#64c5fa"/><rect x="860" y="588" width="4" height="4" fill="#283246"/><rect x="864" y="588" width="4" height="4" fill="#283246"/><rect x="880" y="588" width="4" height="4" fill="#6bc9fc"/><rect x="892" y="588" width="4" height="4" fill="#283289"/><rect x="896" y="588" width="4" height="4" fill="#287dd8"/><rect x="900" y="588" width="4" height="4" fill="#b24d46"/><rect x="904" y="588" width="4" height="4" fill="#283246"/><rect x="912" y="588" width="4" height="4" fill="#efaf5a"/><rect x="916" y="588" width="4" height="4" fill="#473246"/><rect x="924" y="588" width="4" height="4" fill="#ffe0a3"/><rect x="928" y="588" width="4" height="4" fill="#4c3246"/><rect x="936" y="588" width="4" height="4" fill="#efaf5a"/><rect x="632" y="592" width="4" height="4" fill="#73cefd"/><rect x="636" y="592" width="4" height="4" fill="#543246"/><rect x="640" y="592" width="4" height="4" fill="#323246"/><rect x="644" y="592" width="4" height="4" fill="#62a3ab"/><rect x="652" y="592" width="4" height="4" fill="#283246"/><rect x="660" y="592" width="4" height="4" fill="#633246"/><rect x="672" y="592" width="4" height="4" fill="#283246"/><rect x="676" y="592" width="4" height="4" fill="#2859ae"/><rect x="680" y="592" width="4" height="4" fill="#8d3f46"/><rect x="684" y="592" width="4" height="4" fill="#2a607c"/><rect x="700" y="592" width="4" height="4" fill="#283246"/><rect x="712" y="592" width="4" height="4" fill="#283498"/><rect x="720" y="592" width="4" height="4" fill="#283246"/><rect x="724" y="592" width="4" height="4" fill="#283282"/><rect x="728" y="592" width="4" height="4" fill="#f3b766"/><rect x="736" y="592" width="4" height="4" fill="#73cefd"/><rect x="740" y="592" width="4" height="4" fill="#603246"/><rect x="748" y="592" width="4" height="4" fill="#283246"/><rect x="756" y="592" width="4" height="4" fill="#283246"/><rect x="760" y="592" width="4" height="4" fill="#e79f4b"/><rect x="780" y="592" width="4" height="4" fill="#284fbe"/><rect x="784" y="592" width="4" height="4" fill="#58bef7"/><rect x="788" y="592" width="4" height="4" fill="#833446"/><rect x="792" y="592" width="4" height="4" fill="#286fb1"/><rect x="796" y="592" width="4" height="4" fill="#b29c64"/><rect x="808" y="592" width="4" height="4" fill="#283246"/><rect x="816" y="592" width="4" height="4" fill="#283246"/><rect x="828" y="592" width="4" height="4" fill="#283246"/><rect x="840" y="592" width="4" height="4" fill="#283246"/><rect x="844" y="592" width="4" height="4" fill="#283286"/><rect x="848" y="592" width="4" height="4" fill="#64c5fa"/><rect x="856" y="592" width="4" height="4" fill="#95e2ff"/><rect x="860" y="592" width="4" height="4" fill="#66c6fa"/><rect x="876" y="592" width="4" height="4" fill="#283246"/><rect x="880" y="592" width="4" height="4" fill="#68c7fb"/><rect x="888" y="592" width="4" height="4" fill="#283246"/><rect x="892" y="592" width="4" height="4" fill="#283289"/><rect x="896" y="592" width="4" height="4" fill="#283246"/><rect x="900" y="592" width="4" height="4" fill="#6e4d46"/><rect x="904" y="592" width="4" height="4" fill="#283246"/><rect x="912" y="592" width="4" height="4" fill="#efaf5a"/><rect x="916" y="592" width="4" height="4" fill="#fad497"/><rect x="920" y="592" width="4" height="4" fill="#283246"/><rect x="928" y="592" width="4" height="4" fill="#5bbff8"/><rect x="932" y="592" width="4" height="4" fill="#283246"/><rect x="936" y="592" width="4" height="4" fill="#efaf5a"/><rect x="636" y="596" width="4" height="4" fill="#5183bf"/><rect x="684" y="596" width="4" height="4" fill="#628cbd"/><rect x="688" y="596" width="4" height="4" fill="#323b4e"/><rect x="692" y="596" width="4" height="4" fill="#323b4e"/><rect x="696" y="596" width="4" height="4" fill="#63afe9"/><rect x="820" y="596" width="4" height="4" fill="#ebb983"/><rect x="892" y="596" width="4" height="4" fill="#426ab0"/><rect x="912" y="596" width="4" height="4" fill="#3b4b71"/><rect x="1245" y="582" width="4" height="4" fill="#b9a7a7"/><rect x="1249" y="582" width="4" height="4" fill="#9b9fa9"/><rect x="1257" y="582" width="4" height="4" fill="#e59b46"/><rect x="1265" y="582" width="4" height="4" fill="#283246"/><rect x="1305" y="582" width="4" height="4" fill="#b75546"/><rect x="1317" y="582" width="4" height="4" fill="#a4a6b6"/><rect x="1361" y="582" width="4" height="4" fill="#283246"/><rect x="1405" y="582" width="4" height="4" fill="#9fa9bb"/><rect x="1237" y="586" width="4" height="4" fill="#b65746"/><rect x="1241" y="586" width="4" height="4" fill="#6f3246"/><rect x="1249" y="586" width="4" height="4" fill="#81d3fc"/><rect x="1257" y="586" width="4" height="4" fill="#e59b46"/><rect x="1265" y="586" width="4" height="4" fill="#d68346"/><rect x="1269" y="586" width="4" height="4" fill="#ce7846"/><rect x="1273" y="586" width="4" height="4" fill="#7f3246"/><rect x="1277" y="586" width="4" height="4" fill="#b65746"/><rect x="1281" y="586" width="4" height="4" fill="#6f3246"/><rect x="1285" y="586" width="4" height="4" fill="#b65746"/><rect x="1289" y="586" width="4" height="4" fill="#6f3246"/><rect x="1293" y="586" width="4" height="4" fill="#b65746"/><rect x="1297" y="586" width="4" height="4" fill="#6f3246"/><rect x="1305" y="586" width="4" height="4" fill="#b75546"/><rect x="1309" y="586" width="4" height="4" fill="#99e2ff"/><rect x="1313" y="586" width="4" height="4" fill="#b75546"/><rect x="1329" y="586" width="4" height="4" fill="#6bc9fc"/><rect x="1333" y="586" width="4" height="4" fill="#283246"/><rect x="1337" y="586" width="4" height="4" fill="#28325d"/><rect x="1341" y="586" width="4" height="4" fill="#283266"/><rect x="1345" y="586" width="4" height="4" fill="#2867cb"/><rect x="1349" y="586" width="4" height="4" fill="#283266"/><rect x="1353" y="586" width="4" height="4" fill="#2867cb"/><rect x="1361" y="586" width="4" height="4" fill="#283246"/><rect x="1369" y="586" width="4" height="4" fill="#283246"/><rect x="1377" y="586" width="4" height="4" fill="#efaf5a"/><rect x="1381" y="586" width="4" height="4" fill="#283246"/><rect x="1393" y="586" width="4" height="4" fill="#284fb8"/><rect x="1405" y="586" width="4" height="4" fill="#283246"/><rect x="1421" y="586" width="4" height="4" fill="#284fbe"/><rect x="1241" y="590" width="4" height="4" fill="#73cefd"/><rect x="1245" y="590" width="4" height="4" fill="#283246"/><rect x="1249" y="590" width="4" height="4" fill="#283246"/><rect x="1257" y="590" width="4" height="4" fill="#e59b46"/><rect x="1261" y="590" width="4" height="4" fill="#283246"/><rect x="1273" y="590" width="4" height="4" fill="#85d8ff"/><rect x="1281" y="590" width="4" height="4" fill="#73cefd"/><rect x="1289" y="590" width="4" height="4" fill="#73cefd"/><rect x="1297" y="590" width="4" height="4" fill="#73cefd"/><rect x="1305" y="590" width="4" height="4" fill="#b75546"/><rect x="1313" y="590" width="4" height="4" fill="#b75546"/><rect x="1317" y="590" width="4" height="4" fill="#283246"/><rect x="1325" y="590" width="4" height="4" fill="#283246"/><rect x="1329" y="590" width="4" height="4" fill="#68c7fb"/><rect x="1333" y="590" width="4" height="4" fill="#283246"/><rect x="1337" y="590" width="4" height="4" fill="#283246"/><rect x="1361" y="590" width="4" height="4" fill="#283246"/><rect x="1365" y="590" width="4" height="4" fill="#b66146"/><rect x="1369" y="590" width="4" height="4" fill="#283246"/><rect x="1377" y="590" width="4" height="4" fill="#efaf5a"/><rect x="1381" y="590" width="4" height="4" fill="#da9454"/><rect x="1385" y="590" width="4" height="4" fill="#28325d"/><rect x="1401" y="590" width="4" height="4" fill="#f6c783"/><rect x="1405" y="590" width="4" height="4" fill="#283248"/><rect x="1409" y="590" width="4" height="4" fill="#4e97c5"/><rect x="1421" y="590" width="4" height="4" fill="#284fbe"/><rect x="1269" y="594" width="4" height="4" fill="#4b4763"/><rect x="1313" y="594" width="4" height="4" fill="#cf8e67"/><rect x="1341" y="594" width="4" height="4" fill="#598ac1"/><rect x="1349" y="594" width="4" height="4" fill="#598ac1"/><rect x="464" y="644" width="4" height="4" fill="#a6a5ad"/><rect x="472" y="644" width="4" height="4" fill="#beb1b0"/><rect x="488" y="644" width="4" height="4" fill="#a9a7bf"/><rect x="508" y="644" width="4" height="4" fill="#d1b4af"/><rect x="512" y="644" width="4" height="4" fill="#59bef5"/><rect x="528" y="644" width="4" height="4" fill="#a8a6b4"/><rect x="536" y="644" width="4" height="4" fill="#9b9fa9"/><rect x="544" y="644" width="4" height="4" fill="#f0b05c"/><rect x="548" y="644" width="4" height="4" fill="#b0a8af"/><rect x="564" y="644" width="4" height="4" fill="#aba7b0"/><rect x="444" y="648" width="4" height="4" fill="#283246"/><rect x="452" y="648" width="4" height="4" fill="#eca74f"/><rect x="464" y="648" width="4" height="4" fill="#283246"/><rect x="476" y="648" width="4" height="4" fill="#28327d"/><rect x="480" y="648" width="4" height="4" fill="#64c5fa"/><rect x="488" y="648" width="4" height="4" fill="#283246"/><rect x="492" y="648" width="4" height="4" fill="#283266"/><rect x="496" y="648" width="4" height="4" fill="#2867cb"/><rect x="500" y="648" width="4" height="4" fill="#36a6ed"/><rect x="504" y="648" width="4" height="4" fill="#af4c46"/><rect x="508" y="648" width="4" height="4" fill="#2869cc"/><rect x="512" y="648" width="4" height="4" fill="#58bdf7"/><rect x="516" y="648" width="4" height="4" fill="#623246"/><rect x="520" y="648" width="4" height="4" fill="#283246"/><rect x="524" y="648" width="4" height="4" fill="#e9a147"/><rect x="536" y="648" width="4" height="4" fill="#28325a"/><rect x="544" y="648" width="4" height="4" fill="#f0b05c"/><rect x="560" y="648" width="4" height="4" fill="#ffe5aa"/><rect x="572" y="648" width="4" height="4" fill="#283268"/><rect x="444" y="652" width="4" height="4" fill="#f3c78c"/><rect x="448" y="652" width="4" height="4" fill="#283246"/><rect x="456" y="652" width="4" height="4" fill="#283246"/><rect x="464" y="652" width="4" height="4" fill="#283246"/><rect x="472" y="652" width="4" height="4" fill="#283246"/><rect x="480" y="652" width="4" height="4" fill="#64c5fa"/><rect x="484" y="652" width="4" height="4" fill="#283246"/><rect x="488" y="652" width="4" height="4" fill="#283246"/><rect x="500" y="652" width="4" height="4" fill="#633246"/><rect x="512" y="652" width="4" height="4" fill="#58bef7"/><rect x="516" y="652" width="4" height="4" fill="#623246"/><rect x="520" y="652" width="4" height="4" fill="#283246"/><rect x="524" y="652" width="4" height="4" fill="#e9a147"/><rect x="532" y="652" width="4" height="4" fill="#e9a14a"/><rect x="536" y="652" width="4" height="4" fill="#283246"/><rect x="544" y="652" width="4" height="4" fill="#efae59"/><rect x="548" y="652" width="4" height="4" fill="#283246"/><rect x="556" y="652" width="4" height="4" fill="#283246"/><rect x="564" y="652" width="4" height="4" fill="#283246"/><rect x="492" y="656" width="4" height="4" fill="#598ac1"/><rect x="540" y="656" width="4" height="4" fill="#50445d"/><rect x="697" y="644" width="4" height="4" fill="#b9a7a7"/><rect x="701" y="644" width="4" height="4" fill="#9b9fa9"/><rect x="713" y="644" width="4" height="4" fill="#cab0ab"/><rect x="745" y="644" width="4" height="4" fill="#583246"/><rect x="761" y="644" width="4" height="4" fill="#283288"/><rect x="765" y="644" width="4" height="4" fill="#563246"/><rect x="773" y="644" width="4" height="4" fill="#c3acae"/><rect x="781" y="644" width="4" height="4" fill="#bb9773"/><rect x="793" y="644" width="4" height="4" fill="#28428b"/><rect x="797" y="644" width="4" height="4" fill="#2874d3"/><rect x="805" y="644" width="4" height="4" fill="#a5a3bb"/><rect x="821" y="644" width="4" height="4" fill="#9dabca"/><rect x="829" y="644" width="4" height="4" fill="#603246"/><rect x="833" y="644" width="4" height="4" fill="#a0a9bd"/><rect x="841" y="644" width="4" height="4" fill="#d9b9ad"/><rect x="845" y="644" width="4" height="4" fill="#9b9fa9"/><rect x="849" y="644" width="4" height="4" fill="#b75546"/><rect x="877" y="644" width="4" height="4" fill="#a2abc2"/><rect x="701" y="648" width="4" height="4" fill="#81d3fc"/><rect x="705" y="648" width="4" height="4" fill="#603246"/><rect x="737" y="648" width="4" height="4" fill="#2868cc"/><rect x="745" y="648" width="4" height="4" fill="#523246"/><rect x="749" y="648" width="4" height="4" fill="#3a3246"/><rect x="753" y="648" width="4" height="4" fill="#38a8ef"/><rect x="757" y="648" width="4" height="4" fill="#e39846"/><rect x="761" y="648" width="4" height="4" fill="#b04c46"/><rect x="765" y="648" width="4" height="4" fill="#563246"/><rect x="773" y="648" width="4" height="4" fill="#4a3246"/><rect x="793" y="648" width="4" height="4" fill="#2872d2"/><rect x="797" y="648" width="4" height="4" fill="#2874d3"/><rect x="801" y="648" width="4" height="4" fill="#d48546"/><rect x="813" y="648" width="4" height="4" fill="#2869cd"/><rect x="817" y="648" width="4" height="4" fill="#be6046"/><rect x="825" y="648" width="4" height="4" fill="#7fd3fc"/><rect x="829" y="648" width="4" height="4" fill="#603246"/><rect x="837" y="648" width="4" height="4" fill="#efaf5a"/><rect x="845" y="648" width="4" height="4" fill="#2c90df"/><rect x="849" y="648" width="4" height="4" fill="#b75546"/><rect x="853" y="648" width="4" height="4" fill="#99e2ff"/><rect x="857" y="648" width="4" height="4" fill="#473246"/><rect x="873" y="648" width="4" height="4" fill="#ffe3a7"/><rect x="881" y="648" width="4" height="4" fill="#61c3f9"/><rect x="697" y="652" width="4" height="4" fill="#283246"/><rect x="701" y="652" width="4" height="4" fill="#283246"/><rect x="705" y="652" width="4" height="4" fill="#603246"/><rect x="717" y="652" width="4" height="4" fill="#283257"/><rect x="737" y="652" width="4" height="4" fill="#2868cc"/><rect x="741" y="652" width="4" height="4" fill="#283246"/><rect x="745" y="652" width="4" height="4" fill="#3f3246"/><rect x="749" y="652" width="4" height="4" fill="#d28046"/><rect x="753" y="652" width="4" height="4" fill="#a77c69"/><rect x="765" y="652" width="4" height="4" fill="#563246"/><rect x="769" y="652" width="4" height="4" fill="#ecaf67"/><rect x="773" y="652" width="4" height="4" fill="#d88d49"/><rect x="777" y="652" width="4" height="4" fill="#283271"/><rect x="793" y="652" width="4" height="4" fill="#2872d2"/><rect x="797" y="652" width="4" height="4" fill="#2874d3"/><rect x="805" y="652" width="4" height="4" fill="#283271"/><rect x="809" y="652" width="4" height="4" fill="#2842b7"/><rect x="813" y="652" width="4" height="4" fill="#286bcd"/><rect x="817" y="652" width="4" height="4" fill="#be6046"/><rect x="821" y="652" width="4" height="4" fill="#283246"/><rect x="825" y="652" width="4" height="4" fill="#e8a75c"/><rect x="829" y="652" width="4" height="4" fill="#603246"/><rect x="837" y="652" width="4" height="4" fill="#efaf5a"/><rect x="841" y="652" width="4" height="4" fill="#433246"/><rect x="845" y="652" width="4" height="4" fill="#283246"/><rect x="849" y="652" width="4" height="4" fill="#b75546"/><rect x="857" y="652" width="4" height="4" fill="#fad497"/><rect x="861" y="652" width="4" height="4" fill="#283246"/><rect x="869" y="652" width="4" height="4" fill="#283246"/><rect x="877" y="652" width="4" height="4" fill="#283246"/><rect x="881" y="652" width="4" height="4" fill="#61c3f9"/><rect x="709" y="656" width="4" height="4" fill="#7d5554"/><rect x="713" y="656" width="4" height="4" fill="#e1ab7b"/><rect x="837" y="656" width="4" height="4" fill="#3b4b71"/><rect x="877" y="656" width="4" height="4" fill="#414558"/><rect x="1254" y="644" width="4" height="4" fill="#a13a46"/><rect x="1262" y="644" width="4" height="4" fill="#283276"/><rect x="1266" y="644" width="4" height="4" fill="#283246"/><rect x="1270" y="644" width="4" height="4" fill="#fed28d"/><rect x="1278" y="644" width="4" height="4" fill="#ffffdb"/><rect x="1286" y="644" width="4" height="4" fill="#bdeeff"/><rect x="1290" y="644" width="4" height="4" fill="#6c3246"/><rect x="1294" y="644" width="4" height="4" fill="#ffe3b3"/><rect x="1298" y="644" width="4" height="4" fill="#ce7846"/><rect x="1310" y="644" width="4" height="4" fill="#8a3646"/><rect x="1318" y="644" width="4" height="4" fill="#66c6fa"/><rect x="1334" y="644" width="4" height="4" fill="#9be2ff"/><rect x="1338" y="644" width="4" height="4" fill="#283246"/><rect x="1346" y="644" width="4" height="4" fill="#283246"/><rect x="1350" y="644" width="4" height="4" fill="#a13a46"/><rect x="1358" y="644" width="4" height="4" fill="#283246"/><rect x="1362" y="644" width="4" height="4" fill="#aaa9c3"/><rect x="1366" y="644" width="4" height="4" fill="#acc6e4"/><rect x="1370" y="644" width="4" height="4" fill="#a8a6b4"/><rect x="1374" y="644" width="4" height="4" fill="#ffebb6"/><rect x="1378" y="644" width="4" height="4" fill="#ccb7b0"/><rect x="1386" y="644" width="4" height="4" fill="#6b96b1"/><rect x="1398" y="644" width="4" height="4" fill="#a1badf"/><rect x="1402" y="644" width="4" height="4" fill="#b5d1ec"/><rect x="1254" y="648" width="4" height="4" fill="#a13a46"/><rect x="1262" y="648" width="4" height="4" fill="#893246"/><rect x="1270" y="648" width="4" height="4" fill="#754946"/><rect x="1278" y="648" width="4" height="4" fill="#ffffdb"/><rect x="1282" y="648" width="4" height="4" fill="#a1804c"/><rect x="1290" y="648" width="4" height="4" fill="#283246"/><rect x="1294" y="648" width="4" height="4" fill="#ffebb8"/><rect x="1298" y="648" width="4" height="4" fill="#e5c9bd"/><rect x="1318" y="648" width="4" height="4" fill="#283246"/><rect x="1322" y="648" width="4" height="4" fill="#283246"/><rect x="1342" y="648" width="4" height="4" fill="#283281"/><rect x="1346" y="648" width="4" height="4" fill="#283246"/><rect x="1350" y="648" width="4" height="4" fill="#a13a46"/><rect x="1354" y="648" width="4" height="4" fill="#b25a46"/><rect x="1358" y="648" width="4" height="4" fill="#283246"/><rect x="1362" y="648" width="4" height="4" fill="#283246"/><rect x="1366" y="648" width="4" height="4" fill="#e9a147"/><rect x="1374" y="648" width="4" height="4" fill="#ffebb6"/><rect x="1382" y="648" width="4" height="4" fill="#b0eeff"/><rect x="1386" y="648" width="4" height="4" fill="#b8f2ff"/><rect x="1390" y="648" width="4" height="4" fill="#b4f0ff"/><rect x="1394" y="648" width="4" height="4" fill="#523246"/><rect x="1398" y="648" width="4" height="4" fill="#283284"/><rect x="1402" y="648" width="4" height="4" fill="#ffe7ad"/><rect x="1254" y="652" width="4" height="4" fill="#a13a46"/><rect x="1258" y="652" width="4" height="4" fill="#283246"/><rect x="1262" y="652" width="4" height="4" fill="#d8f6ff"/><rect x="1266" y="652" width="4" height="4" fill="#a65f46"/><rect x="1270" y="652" width="4" height="4" fill="#283246"/><rect x="1278" y="652" width="4" height="4" fill="#ffffdb"/><rect x="1286" y="652" width="4" height="4" fill="#3c3246"/><rect x="1290" y="652" width="4" height="4" fill="#f5cc92"/><rect x="1294" y="652" width="4" height="4" fill="#283246"/><rect x="1298" y="652" width="4" height="4" fill="#f6d098"/><rect x="1302" y="652" width="4" height="4" fill="#283246"/><rect x="1318" y="652" width="4" height="4" fill="#66c6fa"/><rect x="1326" y="652" width="4" height="4" fill="#ddfbff"/><rect x="1334" y="652" width="4" height="4" fill="#283246"/><rect x="1338" y="652" width="4" height="4" fill="#283246"/><rect x="1346" y="652" width="4" height="4" fill="#283246"/><rect x="1350" y="652" width="4" height="4" fill="#a13a46"/><rect x="1358" y="652" width="4" height="4" fill="#283246"/><rect x="1362" y="652" width="4" height="4" fill="#283246"/><rect x="1366" y="652" width="4" height="4" fill="#e9a147"/><rect x="1374" y="652" width="4" height="4" fill="#ffebb6"/><rect x="1382" y="652" width="4" height="4" fill="#b0eeff"/><rect x="1386" y="652" width="4" height="4" fill="#b8f2ff"/><rect x="1390" y="652" width="4" height="4" fill="#473746"/><rect x="1394" y="652" width="4" height="4" fill="#286bc3"/><rect x="1398" y="652" width="4" height="4" fill="#283259"/><rect x="1402" y="652" width="4" height="4" fill="#283246"/><rect x="1390" y="656" width="4" height="4" fill="#d1f6ff"/><rect x="1398" y="656" width="4" height="4" fill="#426bb1"/><rect x="448" y="702" width="4" height="4" fill="#563246"/><rect x="452" y="702" width="4" height="4" fill="#a8a6c0"/><rect x="472" y="702" width="4" height="4" fill="#b0a9af"/><rect x="500" y="702" width="4" height="4" fill="#a2b2ce"/><rect x="504" y="702" width="4" height="4" fill="#b9abae"/><rect x="528" y="702" width="4" height="4" fill="#aba7b0"/><rect x="572" y="702" width="4" height="4" fill="#63c4f5"/><rect x="448" y="706" width="4" height="4" fill="#563246"/><rect x="452" y="706" width="4" height="4" fill="#283246"/><rect x="460" y="706" width="4" height="4" fill="#483246"/><rect x="468" y="706" width="4" height="4" fill="#efe6aa"/><rect x="472" y="706" width="4" height="4" fill="#364052"/><rect x="476" y="706" width="4" height="4" fill="#2876d4"/><rect x="484" y="706" width="4" height="4" fill="#59bef7"/><rect x="488" y="706" width="4" height="4" fill="#28324d"/><rect x="492" y="706" width="4" height="4" fill="#d37f46"/><rect x="496" y="706" width="4" height="4" fill="#603246"/><rect x="500" y="706" width="4" height="4" fill="#ffe1a1"/><rect x="516" y="706" width="4" height="4" fill="#eca956"/><rect x="520" y="706" width="4" height="4" fill="#62c3fa"/><rect x="524" y="706" width="4" height="4" fill="#ffe5aa"/><rect x="556" y="706" width="4" height="4" fill="#283246"/><rect x="564" y="706" width="4" height="4" fill="#364052"/><rect x="568" y="706" width="4" height="4" fill="#28328c"/><rect x="572" y="706" width="4" height="4" fill="#59bef8"/><rect x="576" y="706" width="4" height="4" fill="#b45046"/><rect x="448" y="710" width="4" height="4" fill="#563246"/><rect x="452" y="710" width="4" height="4" fill="#924046"/><rect x="456" y="710" width="4" height="4" fill="#285d80"/><rect x="464" y="710" width="4" height="4" fill="#283246"/><rect x="472" y="710" width="4" height="4" fill="#283246"/><rect x="484" y="710" width="4" height="4" fill="#5abff8"/><rect x="488" y="710" width="4" height="4" fill="#28324d"/><rect x="492" y="710" width="4" height="4" fill="#d37f46"/><rect x="496" y="710" width="4" height="4" fill="#603246"/><rect x="500" y="710" width="4" height="4" fill="#ffe1a1"/><rect x="516" y="710" width="4" height="4" fill="#283284"/><rect x="520" y="710" width="4" height="4" fill="#433246"/><rect x="528" y="710" width="4" height="4" fill="#283246"/><rect x="540" y="710" width="4" height="4" fill="#283246"/><rect x="548" y="710" width="4" height="4" fill="#283246"/><rect x="560" y="710" width="4" height="4" fill="#9de2ff"/><rect x="564" y="710" width="4" height="4" fill="#283246"/><rect x="572" y="710" width="4" height="4" fill="#42554c"/><rect x="576" y="710" width="4" height="4" fill="#283282"/><rect x="675" y="702" width="4" height="4" fill="#a13a46"/><rect x="683" y="702" width="4" height="4" fill="#283246"/><rect x="687" y="702" width="4" height="4" fill="#aba7be"/><rect x="695" y="702" width="4" height="4" fill="#62c4fa"/><rect x="703" y="702" width="4" height="4" fill="#9ca9c7"/><rect x="707" y="702" width="4" height="4" fill="#813346"/><rect x="759" y="702" width="4" height="4" fill="#9b9fa9"/><rect x="771" y="702" width="4" height="4" fill="#a7a6b3"/><rect x="787" y="702" width="4" height="4" fill="#ce7e46"/><rect x="803" y="702" width="4" height="4" fill="#363246"/><rect x="807" y="702" width="4" height="4" fill="#cb7946"/><rect x="819" y="702" width="4" height="4" fill="#c5b2af"/><rect x="831" y="702" width="4" height="4" fill="#66c6fa"/><rect x="835" y="702" width="4" height="4" fill="#283254"/><rect x="855" y="702" width="4" height="4" fill="#a9a6ad"/><rect x="875" y="702" width="4" height="4" fill="#9db2d4"/><rect x="675" y="706" width="4" height="4" fill="#a13a46"/><rect x="679" y="706" width="4" height="4" fill="#b25a46"/><rect x="683" y="706" width="4" height="4" fill="#283246"/><rect x="687" y="706" width="4" height="4" fill="#283246"/><rect x="691" y="706" width="4" height="4" fill="#2876d4"/><rect x="695" y="706" width="4" height="4" fill="#62c4fa"/><rect x="699" y="706" width="4" height="4" fill="#293246"/><rect x="715" y="706" width="4" height="4" fill="#2854c0"/><rect x="719" y="706" width="4" height="4" fill="#6bc9fc"/><rect x="727" y="706" width="4" height="4" fill="#513246"/><rect x="731" y="706" width="4" height="4" fill="#283246"/><rect x="735" y="706" width="4" height="4" fill="#383746"/><rect x="743" y="706" width="4" height="4" fill="#283246"/><rect x="755" y="706" width="4" height="4" fill="#55bcf7"/><rect x="759" y="706" width="4" height="4" fill="#a95346"/><rect x="775" y="706" width="4" height="4" fill="#2872d2"/><rect x="779" y="706" width="4" height="4" fill="#283246"/><rect x="787" y="706" width="4" height="4" fill="#73cefd"/><rect x="795" y="706" width="4" height="4" fill="#28326c"/><rect x="799" y="706" width="4" height="4" fill="#287cd7"/><rect x="807" y="706" width="4" height="4" fill="#285cbd"/><rect x="823" y="706" width="4" height="4" fill="#51b9f6"/><rect x="831" y="706" width="4" height="4" fill="#28326f"/><rect x="855" y="706" width="4" height="4" fill="#283246"/><rect x="859" y="706" width="4" height="4" fill="#95e2ff"/><rect x="871" y="706" width="4" height="4" fill="#8a3346"/><rect x="883" y="706" width="4" height="4" fill="#283246"/><rect x="887" y="706" width="4" height="4" fill="#283246"/><rect x="891" y="706" width="4" height="4" fill="#28327e"/><rect x="675" y="710" width="4" height="4" fill="#a13a46"/><rect x="683" y="710" width="4" height="4" fill="#283246"/><rect x="687" y="710" width="4" height="4" fill="#283246"/><rect x="691" y="710" width="4" height="4" fill="#2876d4"/><rect x="695" y="710" width="4" height="4" fill="#62c4fa"/><rect x="703" y="710" width="4" height="4" fill="#283498"/><rect x="707" y="710" width="4" height="4" fill="#2876d1"/><rect x="711" y="710" width="4" height="4" fill="#3e4e71"/><rect x="715" y="710" width="4" height="4" fill="#554b5b"/><rect x="723" y="710" width="4" height="4" fill="#503b46"/><rect x="727" y="710" width="4" height="4" fill="#286bc3"/><rect x="731" y="710" width="4" height="4" fill="#954e46"/><rect x="735" y="710" width="4" height="4" fill="#283246"/><rect x="739" y="710" width="4" height="4" fill="#ce7f46"/><rect x="743" y="710" width="4" height="4" fill="#283284"/><rect x="747" y="710" width="4" height="4" fill="#8ad0e2"/><rect x="755" y="710" width="4" height="4" fill="#55bcf5"/><rect x="759" y="710" width="4" height="4" fill="#283246"/><rect x="763" y="710" width="4" height="4" fill="#7ccbf8"/><rect x="771" y="710" width="4" height="4" fill="#283246"/><rect x="775" y="710" width="4" height="4" fill="#2872d2"/><rect x="779" y="710" width="4" height="4" fill="#283246"/><rect x="783" y="710" width="4" height="4" fill="#358dd9"/><rect x="787" y="710" width="4" height="4" fill="#28328b"/><rect x="791" y="710" width="4" height="4" fill="#454860"/><rect x="795" y="710" width="4" height="4" fill="#7d5b5a"/><rect x="803" y="710" width="4" height="4" fill="#46a8ec"/><rect x="819" y="710" width="4" height="4" fill="#283246"/><rect x="827" y="710" width="4" height="4" fill="#95e2ff"/><rect x="831" y="710" width="4" height="4" fill="#66c6fa"/><rect x="855" y="710" width="4" height="4" fill="#283246"/><rect x="859" y="710" width="4" height="4" fill="#283274"/><rect x="863" y="710" width="4" height="4" fill="#283246"/><rect x="867" y="710" width="4" height="4" fill="#89d3f9"/><rect x="875" y="710" width="4" height="4" fill="#2859bb"/><rect x="883" y="710" width="4" height="4" fill="#283246"/><rect x="687" y="714" width="4" height="4" fill="#76b2e2"/><rect x="775" y="714" width="4" height="4" fill="#5ca1e1"/><rect x="811" y="714" width="4" height="4" fill="#7d5554"/><rect x="887" y="714" width="4" height="4" fill="#45669a"/><rect x="1302" y="703" width="4" height="4" fill="#7b3246"/><rect x="1310" y="703" width="4" height="4" fill="#ffe3a8"/><rect x="1318" y="703" width="4" height="4" fill="#b3efff"/><rect x="1330" y="703" width="4" height="4" fill="#aaa9c3"/><rect x="1334" y="703" width="4" height="4" fill="#acc6e4"/><rect x="1338" y="703" width="4" height="4" fill="#a8a6b4"/><rect x="1342" y="703" width="4" height="4" fill="#ffebb6"/><rect x="1346" y="703" width="4" height="4" fill="#ccb7b0"/><rect x="1358" y="703" width="4" height="4" fill="#ddc5b8"/><rect x="1302" y="707" width="4" height="4" fill="#c9b8bb"/><rect x="1306" y="707" width="4" height="4" fill="#fffbe1"/><rect x="1310" y="707" width="4" height="4" fill="#fff4d0"/><rect x="1314" y="707" width="4" height="4" fill="#e3e7e3"/><rect x="1318" y="707" width="4" height="4" fill="#d4f8ff"/><rect x="1322" y="707" width="4" height="4" fill="#283246"/><rect x="1326" y="707" width="4" height="4" fill="#283246"/><rect x="1330" y="707" width="4" height="4" fill="#283246"/><rect x="1334" y="707" width="4" height="4" fill="#e9a147"/><rect x="1342" y="707" width="4" height="4" fill="#ffebb6"/><rect x="1350" y="707" width="4" height="4" fill="#b0eeff"/><rect x="1362" y="707" width="4" height="4" fill="#2864c9"/><rect x="1302" y="711" width="4" height="4" fill="#d6955a"/><rect x="1306" y="711" width="4" height="4" fill="#283246"/><rect x="1314" y="711" width="4" height="4" fill="#283246"/><rect x="1330" y="711" width="4" height="4" fill="#283246"/><rect x="1334" y="711" width="4" height="4" fill="#e9a147"/><rect x="1342" y="711" width="4" height="4" fill="#ffebb6"/><rect x="1350" y="711" width="4" height="4" fill="#b0eeff"/><rect x="1358" y="711" width="4" height="4" fill="#283246"/><rect x="413" y="762" width="4" height="4" fill="#e0984f"/><rect x="421" y="762" width="4" height="4" fill="#413246"/><rect x="453" y="762" width="4" height="4" fill="#6b3246"/><rect x="461" y="762" width="4" height="4" fill="#9b9fa9"/><rect x="465" y="762" width="4" height="4" fill="#99a8c5"/><rect x="469" y="762" width="4" height="4" fill="#2874d3"/><rect x="473" y="762" width="4" height="4" fill="#c5ada9"/><rect x="485" y="762" width="4" height="4" fill="#283246"/><rect x="509" y="762" width="4" height="4" fill="#2874d3"/><rect x="513" y="762" width="4" height="4" fill="#c5ada9"/><rect x="529" y="762" width="4" height="4" fill="#996b46"/><rect x="533" y="762" width="4" height="4" fill="#a9906a"/><rect x="537" y="762" width="4" height="4" fill="#c0b499"/><rect x="565" y="762" width="4" height="4" fill="#c2afae"/><rect x="597" y="762" width="4" height="4" fill="#283246"/><rect x="605" y="762" width="4" height="4" fill="#f0b05c"/><rect x="413" y="766" width="4" height="4" fill="#283246"/><rect x="421" y="766" width="4" height="4" fill="#283246"/><rect x="425" y="766" width="4" height="4" fill="#483246"/><rect x="437" y="766" width="4" height="4" fill="#b04d46"/><rect x="453" y="766" width="4" height="4" fill="#6b3246"/><rect x="469" y="766" width="4" height="4" fill="#283246"/><rect x="477" y="766" width="4" height="4" fill="#633e46"/><rect x="481" y="766" width="4" height="4" fill="#283246"/><rect x="485" y="766" width="4" height="4" fill="#283246"/><rect x="489" y="766" width="4" height="4" fill="#bd5e46"/><rect x="505" y="766" width="4" height="4" fill="#28327f"/><rect x="509" y="766" width="4" height="4" fill="#283246"/><rect x="517" y="766" width="4" height="4" fill="#287dd8"/><rect x="521" y="766" width="4" height="4" fill="#b24d46"/><rect x="529" y="766" width="4" height="4" fill="#f0b15d"/><rect x="533" y="766" width="4" height="4" fill="#fccb82"/><rect x="553" y="766" width="4" height="4" fill="#eca956"/><rect x="557" y="766" width="4" height="4" fill="#62c3fa"/><rect x="573" y="766" width="4" height="4" fill="#3bacf0"/><rect x="581" y="766" width="4" height="4" fill="#283246"/><rect x="585" y="766" width="4" height="4" fill="#286fd0"/><rect x="597" y="766" width="4" height="4" fill="#283246"/><rect x="605" y="766" width="4" height="4" fill="#f0b05c"/><rect x="417" y="770" width="4" height="4" fill="#283246"/><rect x="421" y="770" width="4" height="4" fill="#284286"/><rect x="429" y="770" width="4" height="4" fill="#283246"/><rect x="437" y="770" width="4" height="4" fill="#286dcf"/><rect x="441" y="770" width="4" height="4" fill="#283246"/><rect x="453" y="770" width="4" height="4" fill="#6b3246"/><rect x="461" y="770" width="4" height="4" fill="#283246"/><rect x="465" y="770" width="4" height="4" fill="#283265"/><rect x="469" y="770" width="4" height="4" fill="#2874d3"/><rect x="473" y="770" width="4" height="4" fill="#283246"/><rect x="477" y="770" width="4" height="4" fill="#283246"/><rect x="481" y="770" width="4" height="4" fill="#a46446"/><rect x="485" y="770" width="4" height="4" fill="#673246"/><rect x="489" y="770" width="4" height="4" fill="#bd5e46"/><rect x="505" y="770" width="4" height="4" fill="#28327f"/><rect x="509" y="770" width="4" height="4" fill="#2874d3"/><rect x="513" y="770" width="4" height="4" fill="#283246"/><rect x="517" y="770" width="4" height="4" fill="#283246"/><rect x="521" y="770" width="4" height="4" fill="#6e4d46"/><rect x="529" y="770" width="4" height="4" fill="#f0b15d"/><rect x="541" y="770" width="4" height="4" fill="#4db0ef"/><rect x="553" y="770" width="4" height="4" fill="#283284"/><rect x="557" y="770" width="4" height="4" fill="#433246"/><rect x="573" y="770" width="4" height="4" fill="#3bacf0"/><rect x="581" y="770" width="4" height="4" fill="#283246"/><rect x="585" y="770" width="4" height="4" fill="#894146"/><rect x="589" y="770" width="4" height="4" fill="#283269"/><rect x="597" y="770" width="4" height="4" fill="#283246"/><rect x="601" y="770" width="4" height="4" fill="#283246"/><rect x="605" y="770" width="4" height="4" fill="#f0b05c"/><rect x="541" y="774" width="4" height="4" fill="#be7d61"/><rect x="681" y="762" width="4" height="4" fill="#aea8ae"/><rect x="697" y="762" width="4" height="4" fill="#a2b1d2"/><rect x="701" y="762" width="4" height="4" fill="#a8a7b4"/><rect x="713" y="762" width="4" height="4" fill="#2874d3"/><rect x="717" y="762" width="4" height="4" fill="#c5ada9"/><rect x="741" y="762" width="4" height="4" fill="#a1adc4"/><rect x="769" y="762" width="4" height="4" fill="#c3acae"/><rect x="777" y="762" width="4" height="4" fill="#cab0ab"/><rect x="789" y="762" width="4" height="4" fill="#4ea8e9"/><rect x="793" y="762" width="4" height="4" fill="#a2acc4"/><rect x="797" y="762" width="4" height="4" fill="#e1be80"/><rect x="805" y="762" width="4" height="4" fill="#a7a7c3"/><rect x="829" y="762" width="4" height="4" fill="#a0a4b2"/><rect x="837" y="762" width="4" height="4" fill="#aba7b0"/><rect x="853" y="762" width="4" height="4" fill="#2e3246"/><rect x="869" y="762" width="4" height="4" fill="#588db1"/><rect x="877" y="762" width="4" height="4" fill="#583246"/><rect x="893" y="762" width="4" height="4" fill="#a6a1b8"/><rect x="665" y="766" width="4" height="4" fill="#b65746"/><rect x="669" y="766" width="4" height="4" fill="#6f3246"/><rect x="673" y="766" width="4" height="4" fill="#603246"/><rect x="677" y="766" width="4" height="4" fill="#ffe4a8"/><rect x="685" y="766" width="4" height="4" fill="#2865ca"/><rect x="693" y="766" width="4" height="4" fill="#283288"/><rect x="705" y="766" width="4" height="4" fill="#2872d2"/><rect x="713" y="766" width="4" height="4" fill="#283246"/><rect x="721" y="766" width="4" height="4" fill="#2876d4"/><rect x="729" y="766" width="4" height="4" fill="#633e46"/><rect x="733" y="766" width="4" height="4" fill="#283246"/><rect x="737" y="766" width="4" height="4" fill="#563246"/><rect x="745" y="766" width="4" height="4" fill="#eca74f"/><rect x="761" y="766" width="4" height="4" fill="#283246"/><rect x="765" y="766" width="4" height="4" fill="#383746"/><rect x="769" y="766" width="4" height="4" fill="#4a3246"/><rect x="789" y="766" width="4" height="4" fill="#a53f46"/><rect x="805" y="766" width="4" height="4" fill="#e8a24f"/><rect x="809" y="766" width="4" height="4" fill="#283284"/><rect x="813" y="766" width="4" height="4" fill="#ffd28c"/><rect x="817" y="766" width="4" height="4" fill="#473246"/><rect x="829" y="766" width="4" height="4" fill="#283254"/><rect x="833" y="766" width="4" height="4" fill="#ffe5aa"/><rect x="849" y="766" width="4" height="4" fill="#55bcf7"/><rect x="861" y="766" width="4" height="4" fill="#41aff1"/><rect x="869" y="766" width="4" height="4" fill="#9be5ff"/><rect x="877" y="766" width="4" height="4" fill="#523246"/><rect x="881" y="766" width="4" height="4" fill="#793646"/><rect x="885" y="766" width="4" height="4" fill="#89b6e0"/><rect x="889" y="766" width="4" height="4" fill="#283262"/><rect x="893" y="766" width="4" height="4" fill="#bbd5ad"/><rect x="897" y="766" width="4" height="4" fill="#2b3246"/><rect x="901" y="766" width="4" height="4" fill="#97654c"/><rect x="905" y="766" width="4" height="4" fill="#283246"/><rect x="669" y="770" width="4" height="4" fill="#73cefd"/><rect x="673" y="770" width="4" height="4" fill="#603246"/><rect x="681" y="770" width="4" height="4" fill="#283246"/><rect x="689" y="770" width="4" height="4" fill="#283246"/><rect x="693" y="770" width="4" height="4" fill="#e79f4b"/><rect x="701" y="770" width="4" height="4" fill="#283246"/><rect x="705" y="770" width="4" height="4" fill="#2872d2"/><rect x="709" y="770" width="4" height="4" fill="#2842b7"/><rect x="713" y="770" width="4" height="4" fill="#2874d3"/><rect x="717" y="770" width="4" height="4" fill="#283246"/><rect x="721" y="770" width="4" height="4" fill="#2876d4"/><rect x="725" y="770" width="4" height="4" fill="#2842b7"/><rect x="729" y="770" width="4" height="4" fill="#283246"/><rect x="733" y="770" width="4" height="4" fill="#a46446"/><rect x="737" y="770" width="4" height="4" fill="#563246"/><rect x="741" y="770" width="4" height="4" fill="#283246"/><rect x="749" y="770" width="4" height="4" fill="#283246"/><rect x="761" y="770" width="4" height="4" fill="#954e46"/><rect x="765" y="770" width="4" height="4" fill="#283246"/><rect x="769" y="770" width="4" height="4" fill="#d88d49"/><rect x="773" y="770" width="4" height="4" fill="#283271"/><rect x="781" y="770" width="4" height="4" fill="#283257"/><rect x="793" y="770" width="4" height="4" fill="#9accf1"/><rect x="797" y="770" width="4" height="4" fill="#5f90c6"/><rect x="813" y="770" width="4" height="4" fill="#28324e"/><rect x="817" y="770" width="4" height="4" fill="#fad497"/><rect x="821" y="770" width="4" height="4" fill="#283246"/><rect x="829" y="770" width="4" height="4" fill="#283246"/><rect x="837" y="770" width="4" height="4" fill="#283246"/><rect x="849" y="770" width="4" height="4" fill="#55bcf7"/><rect x="853" y="770" width="4" height="4" fill="#64c2f7"/><rect x="857" y="770" width="4" height="4" fill="#435f8d"/><rect x="861" y="770" width="4" height="4" fill="#424966"/><rect x="869" y="770" width="4" height="4" fill="#283246"/><rect x="873" y="770" width="4" height="4" fill="#283246"/><rect x="877" y="770" width="4" height="4" fill="#3f3246"/><rect x="881" y="770" width="4" height="4" fill="#323246"/><rect x="885" y="770" width="4" height="4" fill="#283246"/><rect x="889" y="770" width="4" height="4" fill="#f3b766"/><rect x="897" y="770" width="4" height="4" fill="#7bd2ff"/><rect x="901" y="770" width="4" height="4" fill="#283246"/><rect x="905" y="770" width="4" height="4" fill="#9fa26d"/><rect x="701" y="774" width="4" height="4" fill="#4d4957"/><rect x="737" y="774" width="4" height="4" fill="#8e5d5e"/><rect x="777" y="774" width="4" height="4" fill="#e1ab7b"/><rect x="801" y="774" width="4" height="4" fill="#7d5554"/><rect x="1239" y="763" width="4" height="4" fill="#a13a46"/><rect x="1251" y="763" width="4" height="4" fill="#283257"/><rect x="1259" y="763" width="4" height="4" fill="#393246"/><rect x="1267" y="763" width="4" height="4" fill="#39a7ed"/><rect x="1271" y="763" width="4" height="4" fill="#3ea2e9"/><rect x="1275" y="763" width="4" height="4" fill="#3b4380"/><rect x="1283" y="763" width="4" height="4" fill="#5f3246"/><rect x="1287" y="763" width="4" height="4" fill="#a13a46"/><rect x="1303" y="763" width="4" height="4" fill="#286bce"/><rect x="1311" y="763" width="4" height="4" fill="#283246"/><rect x="1315" y="763" width="4" height="4" fill="#e9b176"/><rect x="1319" y="763" width="4" height="4" fill="#7b3246"/><rect x="1335" y="763" width="4" height="4" fill="#56b6f2"/><rect x="1339" y="763" width="4" height="4" fill="#283290"/><rect x="1343" y="763" width="4" height="4" fill="#fff3cd"/><rect x="1355" y="763" width="4" height="4" fill="#369de7"/><rect x="1359" y="763" width="4" height="4" fill="#2e3246"/><rect x="1363" y="763" width="4" height="4" fill="#f9cd8b"/><rect x="1375" y="763" width="4" height="4" fill="#dfc9bc"/><rect x="1383" y="763" width="4" height="4" fill="#283246"/><rect x="1387" y="763" width="4" height="4" fill="#283246"/><rect x="1391" y="763" width="4" height="4" fill="#c3acae"/><rect x="1403" y="763" width="4" height="4" fill="#a1a9bb"/><rect x="1411" y="763" width="4" height="4" fill="#beb1b0"/><rect x="1419" y="763" width="4" height="4" fill="#59bef5"/><rect x="1423" y="763" width="4" height="4" fill="#dbf2fe"/><rect x="1431" y="763" width="4" height="4" fill="#fae6ca"/><rect x="1239" y="767" width="4" height="4" fill="#a13a46"/><rect x="1255" y="767" width="4" height="4" fill="#283ca8"/><rect x="1259" y="767" width="4" height="4" fill="#3a3246"/><rect x="1263" y="767" width="4" height="4" fill="#283246"/><rect x="1271" y="767" width="4" height="4" fill="#9ee4ff"/><rect x="1275" y="767" width="4" height="4" fill="#283246"/><rect x="1287" y="767" width="4" height="4" fill="#a13a46"/><rect x="1291" y="767" width="4" height="4" fill="#283246"/><rect x="1295" y="767" width="4" height="4" fill="#a7e8ff"/><rect x="1299" y="767" width="4" height="4" fill="#b6d7e9"/><rect x="1303" y="767" width="4" height="4" fill="#3c9ee6"/><rect x="1311" y="767" width="4" height="4" fill="#283270"/><rect x="1315" y="767" width="4" height="4" fill="#f2b86d"/><rect x="1319" y="767" width="4" height="4" fill="#c9b8bb"/><rect x="1323" y="767" width="4" height="4" fill="#fffbe1"/><rect x="1335" y="767" width="4" height="4" fill="#843246"/><rect x="1347" y="767" width="4" height="4" fill="#283246"/><rect x="1355" y="767" width="4" height="4" fill="#cbfaff"/><rect x="1359" y="767" width="4" height="4" fill="#c66b46"/><rect x="1367" y="767" width="4" height="4" fill="#283246"/><rect x="1375" y="767" width="4" height="4" fill="#283246"/><rect x="1379" y="767" width="4" height="4" fill="#28325d"/><rect x="1383" y="767" width="4" height="4" fill="#283246"/><rect x="1387" y="767" width="4" height="4" fill="#283246"/><rect x="1391" y="767" width="4" height="4" fill="#4a3246"/><rect x="1399" y="767" width="4" height="4" fill="#ae4846"/><rect x="1407" y="767" width="4" height="4" fill="#b0efe6"/><rect x="1415" y="767" width="4" height="4" fill="#28327d"/><rect x="1419" y="767" width="4" height="4" fill="#58bdf7"/><rect x="1423" y="767" width="4" height="4" fill="#623246"/><rect x="1427" y="767" width="4" height="4" fill="#283246"/><rect x="1431" y="767" width="4" height="4" fill="#28327e"/><rect x="1239" y="771" width="4" height="4" fill="#a13a46"/><rect x="1243" y="771" width="4" height="4" fill="#283246"/><rect x="1247" y="771" width="4" height="4" fill="#a84d46"/><rect x="1255" y="771" width="4" height="4" fill="#f3b768"/><rect x="1259" y="771" width="4" height="4" fill="#393246"/><rect x="1271" y="771" width="4" height="4" fill="#283246"/><rect x="1275" y="771" width="4" height="4" fill="#3187d4"/><rect x="1279" y="771" width="4" height="4" fill="#fdce86"/><rect x="1287" y="771" width="4" height="4" fill="#a13a46"/><rect x="1299" y="771" width="4" height="4" fill="#283246"/><rect x="1303" y="771" width="4" height="4" fill="#a4e1fd"/><rect x="1311" y="771" width="4" height="4" fill="#d28f53"/><rect x="1315" y="771" width="4" height="4" fill="#283246"/><rect x="1319" y="771" width="4" height="4" fill="#d6955a"/><rect x="1323" y="771" width="4" height="4" fill="#283246"/><rect x="1331" y="771" width="4" height="4" fill="#fff6d3"/><rect x="1339" y="771" width="4" height="4" fill="#b96346"/><rect x="1343" y="771" width="4" height="4" fill="#403246"/><rect x="1351" y="771" width="4" height="4" fill="#283599"/><rect x="1355" y="771" width="4" height="4" fill="#283246"/><rect x="1359" y="771" width="4" height="4" fill="#287fcf"/><rect x="1363" y="771" width="4" height="4" fill="#283246"/><rect x="1371" y="771" width="4" height="4" fill="#2884d9"/><rect x="1375" y="771" width="4" height="4" fill="#283246"/><rect x="1379" y="771" width="4" height="4" fill="#283246"/><rect x="1383" y="771" width="4" height="4" fill="#283246"/><rect x="1387" y="771" width="4" height="4" fill="#283246"/><rect x="1391" y="771" width="4" height="4" fill="#d88d49"/><rect x="1395" y="771" width="4" height="4" fill="#283271"/><rect x="1403" y="771" width="4" height="4" fill="#283246"/><rect x="1411" y="771" width="4" height="4" fill="#283246"/><rect x="1415" y="771" width="4" height="4" fill="#cef4ff"/><rect x="1419" y="771" width="4" height="4" fill="#58bef7"/><rect x="1423" y="771" width="4" height="4" fill="#623246"/><rect x="1427" y="775" width="4" height="4" fill="#45669a"/><rect x="418" y="822" width="4" height="4" fill="#a1adc4"/><rect x="426" y="822" width="4" height="4" fill="#9fa9bc"/><rect x="434" y="822" width="4" height="4" fill="#c5b2af"/><rect x="486" y="822" width="4" height="4" fill="#283246"/><rect x="514" y="822" width="4" height="4" fill="#b8acaf"/><rect x="522" y="822" width="4" height="4" fill="#63c4f5"/><rect x="554" y="822" width="4" height="4" fill="#6b96b1"/><rect x="578" y="822" width="4" height="4" fill="#6c96ab"/><rect x="582" y="822" width="4" height="4" fill="#6b96b1"/><rect x="594" y="822" width="4" height="4" fill="#283246"/><rect x="602" y="822" width="4" height="4" fill="#bea9aa"/><rect x="414" y="826" width="4" height="4" fill="#563246"/><rect x="426" y="826" width="4" height="4" fill="#283e6b"/><rect x="438" y="826" width="4" height="4" fill="#51b9f6"/><rect x="446" y="826" width="4" height="4" fill="#28327c"/><rect x="454" y="826" width="4" height="4" fill="#b45046"/><rect x="458" y="826" width="4" height="4" fill="#7c3246"/><rect x="462" y="826" width="4" height="4" fill="#283246"/><rect x="466" y="826" width="4" height="4" fill="#283286"/><rect x="486" y="826" width="4" height="4" fill="#283246"/><rect x="490" y="826" width="4" height="4" fill="#283246"/><rect x="498" y="826" width="4" height="4" fill="#ae4746"/><rect x="518" y="826" width="4" height="4" fill="#283289"/><rect x="522" y="826" width="4" height="4" fill="#59bef8"/><rect x="526" y="826" width="4" height="4" fill="#b45046"/><rect x="530" y="826" width="4" height="4" fill="#283246"/><rect x="566" y="826" width="4" height="4" fill="#283268"/><rect x="590" y="826" width="4" height="4" fill="#523246"/><rect x="594" y="826" width="4" height="4" fill="#283246"/><rect x="598" y="826" width="4" height="4" fill="#453246"/><rect x="602" y="826" width="4" height="4" fill="#5ec1dc"/><rect x="606" y="826" width="4" height="4" fill="#8f3246"/><rect x="414" y="830" width="4" height="4" fill="#563246"/><rect x="418" y="830" width="4" height="4" fill="#283246"/><rect x="426" y="830" width="4" height="4" fill="#283246"/><rect x="434" y="830" width="4" height="4" fill="#283246"/><rect x="442" y="830" width="4" height="4" fill="#283246"/><rect x="450" y="830" width="4" height="4" fill="#283246"/><rect x="454" y="830" width="4" height="4" fill="#2859ae"/><rect x="466" y="830" width="4" height="4" fill="#9a4b46"/><rect x="470" y="830" width="4" height="4" fill="#28456a"/><rect x="482" y="830" width="4" height="4" fill="#283246"/><rect x="486" y="830" width="4" height="4" fill="#28489b"/><rect x="490" y="830" width="4" height="4" fill="#283246"/><rect x="494" y="830" width="4" height="4" fill="#283246"/><rect x="502" y="830" width="4" height="4" fill="#283246"/><rect x="510" y="830" width="4" height="4" fill="#285ec0"/><rect x="514" y="830" width="4" height="4" fill="#283246"/><rect x="518" y="830" width="4" height="4" fill="#283289"/><rect x="522" y="830" width="4" height="4" fill="#42554c"/><rect x="526" y="830" width="4" height="4" fill="#283282"/><rect x="530" y="830" width="4" height="4" fill="#283246"/><rect x="586" y="830" width="4" height="4" fill="#283246"/><rect x="590" y="830" width="4" height="4" fill="#343246"/><rect x="594" y="830" width="4" height="4" fill="#283246"/><rect x="606" y="830" width="4" height="4" fill="#288be0"/><rect x="414" y="834" width="4" height="4" fill="#8e5d5e"/><rect x="458" y="834" width="4" height="4" fill="#3d5178"/><rect x="490" y="834" width="4" height="4" fill="#574e7c"/><rect x="502" y="834" width="4" height="4" fill="#3c4d6b"/><rect x="514" y="834" width="4" height="4" fill="#61545a"/><rect x="558" y="834" width="4" height="4" fill="#ebb983"/><rect x="590" y="834" width="4" height="4" fill="#905e5e"/><rect x="644" y="822" width="4" height="4" fill="#ffe5af"/><rect x="652" y="822" width="4" height="4" fill="#d3f4ff"/><rect x="656" y="822" width="4" height="4" fill="#d49052"/><rect x="660" y="822" width="4" height="4" fill="#e59b46"/><rect x="668" y="822" width="4" height="4" fill="#dd9046"/><rect x="692" y="822" width="4" height="4" fill="#f9ca86"/><rect x="696" y="822" width="4" height="4" fill="#fff3c5"/><rect x="716" y="822" width="4" height="4" fill="#4e3246"/><rect x="724" y="822" width="4" height="4" fill="#4db6f4"/><rect x="728" y="822" width="4" height="4" fill="#853246"/><rect x="732" y="822" width="4" height="4" fill="#283246"/><rect x="736" y="822" width="4" height="4" fill="#ffdea1"/><rect x="744" y="822" width="4" height="4" fill="#283246"/><rect x="752" y="822" width="4" height="4" fill="#a14446"/><rect x="760" y="822" width="4" height="4" fill="#283276"/><rect x="768" y="822" width="4" height="4" fill="#b5efff"/><rect x="772" y="822" width="4" height="4" fill="#acebff"/><rect x="776" y="822" width="4" height="4" fill="#f9ca87"/><rect x="780" y="822" width="4" height="4" fill="#fdce86"/><rect x="788" y="822" width="4" height="4" fill="#ca7146"/><rect x="792" y="822" width="4" height="4" fill="#a13a46"/><rect x="804" y="822" width="4" height="4" fill="#283246"/><rect x="812" y="822" width="4" height="4" fill="#5fc0f7"/><rect x="816" y="822" width="4" height="4" fill="#b6efff"/><rect x="820" y="822" width="4" height="4" fill="#283246"/><rect x="828" y="822" width="4" height="4" fill="#393246"/><rect x="836" y="822" width="4" height="4" fill="#eba752"/><rect x="844" y="822" width="4" height="4" fill="#edffe3"/><rect x="852" y="822" width="4" height="4" fill="#63c4fa"/><rect x="856" y="822" width="4" height="4" fill="#abecff"/><rect x="864" y="822" width="4" height="4" fill="#28328a"/><rect x="868" y="822" width="4" height="4" fill="#d98b46"/><rect x="880" y="822" width="4" height="4" fill="#283246"/><rect x="888" y="822" width="4" height="4" fill="#fff4cd"/><rect x="892" y="822" width="4" height="4" fill="#4db7f5"/><rect x="896" y="822" width="4" height="4" fill="#283278"/><rect x="904" y="822" width="4" height="4" fill="#e7c6b3"/><rect x="908" y="822" width="4" height="4" fill="#a6a5b2"/><rect x="912" y="822" width="4" height="4" fill="#dab998"/><rect x="916" y="822" width="4" height="4" fill="#c7e9fc"/><rect x="920" y="822" width="4" height="4" fill="#a6a5ad"/><rect x="924" y="822" width="4" height="4" fill="#feeed6"/><rect x="928" y="822" width="4" height="4" fill="#8ea6c0"/><rect x="644" y="826" width="4" height="4" fill="#3da8ee"/><rect x="648" y="826" width="4" height="4" fill="#f9c57a"/><rect x="660" y="826" width="4" height="4" fill="#e59b46"/><rect x="664" y="826" width="4" height="4" fill="#283261"/><rect x="668" y="826" width="4" height="4" fill="#2890e2"/><rect x="688" y="826" width="4" height="4" fill="#283246"/><rect x="692" y="826" width="4" height="4" fill="#285498"/><rect x="704" y="826" width="4" height="4" fill="#88d9ff"/><rect x="708" y="826" width="4" height="4" fill="#b5c5cb"/><rect x="712" y="826" width="4" height="4" fill="#c2c4ca"/><rect x="716" y="826" width="4" height="4" fill="#fff6ca"/><rect x="720" y="826" width="4" height="4" fill="#c06346"/><rect x="724" y="826" width="4" height="4" fill="#4b3246"/><rect x="728" y="826" width="4" height="4" fill="#285dc5"/><rect x="732" y="826" width="4" height="4" fill="#3f3246"/><rect x="736" y="826" width="4" height="4" fill="#b78555"/><rect x="740" y="826" width="4" height="4" fill="#c77446"/><rect x="744" y="826" width="4" height="4" fill="#fccc84"/><rect x="752" y="826" width="4" height="4" fill="#ad4546"/><rect x="760" y="826" width="4" height="4" fill="#cffcff"/><rect x="776" y="826" width="4" height="4" fill="#283246"/><rect x="780" y="826" width="4" height="4" fill="#fdce86"/><rect x="788" y="826" width="4" height="4" fill="#ca7146"/><rect x="792" y="826" width="4" height="4" fill="#a13a46"/><rect x="796" y="826" width="4" height="4" fill="#c2c4ca"/><rect x="800" y="826" width="4" height="4" fill="#dcf1fd"/><rect x="804" y="826" width="4" height="4" fill="#82d7ff"/><rect x="816" y="826" width="4" height="4" fill="#f7e5d3"/><rect x="820" y="826" width="4" height="4" fill="#28327d"/><rect x="828" y="826" width="4" height="4" fill="#393246"/><rect x="836" y="826" width="4" height="4" fill="#fad190"/><rect x="840" y="826" width="4" height="4" fill="#e7e1d3"/><rect x="848" y="826" width="4" height="4" fill="#bf7a46"/><rect x="860" y="826" width="4" height="4" fill="#283246"/><rect x="868" y="826" width="4" height="4" fill="#473246"/><rect x="880" y="826" width="4" height="4" fill="#283246"/><rect x="888" y="826" width="4" height="4" fill="#aeeaff"/><rect x="892" y="826" width="4" height="4" fill="#4db7f5"/><rect x="896" y="826" width="4" height="4" fill="#afc1dd"/><rect x="900" y="826" width="4" height="4" fill="#e9a85f"/><rect x="904" y="826" width="4" height="4" fill="#bd5e46"/><rect x="912" y="826" width="4" height="4" fill="#fff6ca"/><rect x="920" y="826" width="4" height="4" fill="#283246"/><rect x="652" y="830" width="4" height="4" fill="#283246"/><rect x="656" y="830" width="4" height="4" fill="#28325d"/><rect x="660" y="830" width="4" height="4" fill="#e59b46"/><rect x="664" y="830" width="4" height="4" fill="#fff2c2"/><rect x="676" y="830" width="4" height="4" fill="#283246"/><rect x="680" y="830" width="4" height="4" fill="#283246"/><rect x="692" y="830" width="4" height="4" fill="#f8c982"/><rect x="700" y="830" width="4" height="4" fill="#283246"/><rect x="708" y="830" width="4" height="4" fill="#283246"/><rect x="712" y="830" width="4" height="4" fill="#283246"/><rect x="720" y="830" width="4" height="4" fill="#2844b3"/><rect x="724" y="830" width="4" height="4" fill="#ffedba"/><rect x="732" y="830" width="4" height="4" fill="#a25b46"/><rect x="736" y="830" width="4" height="4" fill="#283246"/><rect x="744" y="830" width="4" height="4" fill="#fccc84"/><rect x="752" y="830" width="4" height="4" fill="#283246"/><rect x="756" y="830" width="4" height="4" fill="#318fdd"/><rect x="760" y="830" width="4" height="4" fill="#9e6146"/><rect x="764" y="830" width="4" height="4" fill="#283246"/><rect x="772" y="830" width="4" height="4" fill="#283246"/><rect x="776" y="830" width="4" height="4" fill="#283246"/><rect x="784" y="830" width="4" height="4" fill="#283246"/><rect x="788" y="830" width="4" height="4" fill="#4290d4"/><rect x="792" y="830" width="4" height="4" fill="#a13a46"/><rect x="796" y="830" width="4" height="4" fill="#283246"/><rect x="800" y="830" width="4" height="4" fill="#283270"/><rect x="804" y="830" width="4" height="4" fill="#d39b69"/><rect x="808" y="830" width="4" height="4" fill="#283246"/><rect x="816" y="830" width="4" height="4" fill="#283246"/><rect x="820" y="830" width="4" height="4" fill="#286ec0"/><rect x="824" y="830" width="4" height="4" fill="#283246"/><rect x="828" y="830" width="4" height="4" fill="#3a3246"/><rect x="832" y="830" width="4" height="4" fill="#283246"/><rect x="836" y="830" width="4" height="4" fill="#fff4d5"/><rect x="840" y="830" width="4" height="4" fill="#283246"/><rect x="844" y="830" width="4" height="4" fill="#fff1c1"/><rect x="848" y="830" width="4" height="4" fill="#283246"/><rect x="852" y="830" width="4" height="4" fill="#3696e1"/><rect x="856" y="830" width="4" height="4" fill="#283246"/><rect x="860" y="830" width="4" height="4" fill="#4396dc"/><rect x="864" y="830" width="4" height="4" fill="#603246"/><rect x="868" y="830" width="4" height="4" fill="#283246"/><rect x="872" y="830" width="4" height="4" fill="#c16446"/><rect x="880" y="830" width="4" height="4" fill="#283246"/><rect x="892" y="830" width="4" height="4" fill="#4db7f5"/><rect x="896" y="830" width="4" height="4" fill="#513246"/><rect x="900" y="830" width="4" height="4" fill="#283246"/><rect x="904" y="830" width="4" height="4" fill="#bd5e46"/><rect x="916" y="830" width="4" height="4" fill="#4db0eb"/><rect x="920" y="830" width="4" height="4" fill="#283246"/><rect x="1233" y="823" width="4" height="4" fill="#a13a46"/><rect x="1237" y="823" width="4" height="4" fill="#fad69c"/><rect x="1293" y="823" width="4" height="4" fill="#a7a6b3"/><rect x="1297" y="823" width="4" height="4" fill="#2872d2"/><rect x="1313" y="823" width="4" height="4" fill="#893246"/><rect x="1321" y="823" width="4" height="4" fill="#283246"/><rect x="1325" y="823" width="4" height="4" fill="#aba7be"/><rect x="1329" y="823" width="4" height="4" fill="#28328b"/><rect x="1333" y="823" width="4" height="4" fill="#63c4f5"/><rect x="1341" y="823" width="4" height="4" fill="#283246"/><rect x="1357" y="823" width="4" height="4" fill="#ffdd9c"/><rect x="1365" y="823" width="4" height="4" fill="#873246"/><rect x="1369" y="823" width="4" height="4" fill="#c3acae"/><rect x="1413" y="823" width="4" height="4" fill="#edb15d"/><rect x="1425" y="823" width="4" height="4" fill="#a6a5ad"/><rect x="1233" y="827" width="4" height="4" fill="#a13a46"/><rect x="1237" y="827" width="4" height="4" fill="#283246"/><rect x="1249" y="827" width="4" height="4" fill="#523246"/><rect x="1253" y="827" width="4" height="4" fill="#283246"/><rect x="1297" y="827" width="4" height="4" fill="#2872d2"/><rect x="1305" y="827" width="4" height="4" fill="#4d3246"/><rect x="1313" y="827" width="4" height="4" fill="#893246"/><rect x="1321" y="827" width="4" height="4" fill="#283246"/><rect x="1325" y="827" width="4" height="4" fill="#283246"/><rect x="1329" y="827" width="4" height="4" fill="#28328b"/><rect x="1333" y="827" width="4" height="4" fill="#59bef8"/><rect x="1337" y="827" width="4" height="4" fill="#b45046"/><rect x="1341" y="827" width="4" height="4" fill="#283246"/><rect x="1345" y="827" width="4" height="4" fill="#286dcf"/><rect x="1357" y="827" width="4" height="4" fill="#ffdd9c"/><rect x="1361" y="827" width="4" height="4" fill="#283246"/><rect x="1365" y="827" width="4" height="4" fill="#79b3e2"/><rect x="1369" y="827" width="4" height="4" fill="#4a3246"/><rect x="1393" y="827" width="4" height="4" fill="#28327f"/><rect x="1397" y="827" width="4" height="4" fill="#64c5fa"/><rect x="1405" y="827" width="4" height="4" fill="#513246"/><rect x="1409" y="827" width="4" height="4" fill="#286fd0"/><rect x="1413" y="827" width="4" height="4" fill="#efad58"/><rect x="1417" y="827" width="4" height="4" fill="#bd5e46"/><rect x="1425" y="827" width="4" height="4" fill="#283246"/><rect x="1233" y="831" width="4" height="4" fill="#a13a46"/><rect x="1241" y="831" width="4" height="4" fill="#283291"/><rect x="1245" y="831" width="4" height="4" fill="#283246"/><rect x="1249" y="831" width="4" height="4" fill="#343246"/><rect x="1253" y="831" width="4" height="4" fill="#283246"/><rect x="1257" y="831" width="4" height="4" fill="#283246"/><rect x="1277" y="831" width="4" height="4" fill="#283246"/><rect x="1293" y="831" width="4" height="4" fill="#283246"/><rect x="1297" y="831" width="4" height="4" fill="#2870d0"/><rect x="1301" y="831" width="4" height="4" fill="#283246"/><rect x="1305" y="831" width="4" height="4" fill="#3e3246"/><rect x="1317" y="831" width="4" height="4" fill="#283246"/><rect x="1325" y="831" width="4" height="4" fill="#283246"/><rect x="1329" y="831" width="4" height="4" fill="#28328b"/><rect x="1333" y="831" width="4" height="4" fill="#42554c"/><rect x="1337" y="831" width="4" height="4" fill="#283282"/><rect x="1341" y="831" width="4" height="4" fill="#283246"/><rect x="1345" y="831" width="4" height="4" fill="#8c4446"/><rect x="1349" y="831" width="4" height="4" fill="#283246"/><rect x="1357" y="831" width="4" height="4" fill="#ffdd9c"/><rect x="1365" y="831" width="4" height="4" fill="#833246"/><rect x="1369" y="831" width="4" height="4" fill="#d88d49"/><rect x="1373" y="831" width="4" height="4" fill="#283271"/><rect x="1393" y="831" width="4" height="4" fill="#28327f"/><rect x="1397" y="831" width="4" height="4" fill="#64c5fa"/><rect x="1401" y="831" width="4" height="4" fill="#283246"/><rect x="1405" y="831" width="4" height="4" fill="#479de1"/><rect x="1409" y="831" width="4" height="4" fill="#4b3246"/><rect x="1413" y="831" width="4" height="4" fill="#3d5e53"/><rect x="1417" y="831" width="4" height="4" fill="#bd5e46"/><rect x="1425" y="831" width="4" height="4" fill="#283246"/><rect x="1249" y="835" width="4" height="4" fill="#905e5e"/><rect x="1253" y="835" width="4" height="4" fill="#574e7c"/><rect x="1301" y="835" width="4" height="4" fill="#a58071"/><rect x="1325" y="835" width="4" height="4" fill="#76b1e6"/></svg>
<svg class="a" style="left:1780px;top:740px" width="86" height="86" viewBox="1780 740 86 86">
<circle cx="1822.5" cy="782.5" r="40.5" fill="#07a84e"/>
<path d="M1822.6 762C1812.5 762 1804.2 770 1804.2 780.3C1804.2 786.6 1807.8 792 1813 795.2L1815.8 803.3L1824.5 798.7C1834 797.8 1841 790 1841 780.3C1841 770 1832.8 762 1822.6 762Z" fill="#fff"/>
<path d="M1820.7 789.6Q1827.3 795.5 1834 789.6Z" fill="#07a84e"/>
</svg>
<div class="a" style="left:1858px;top:0;width:34px;height:430px;background:linear-gradient(to right,rgba(0,0,0,0) 0,rgba(0,0,0,0.012) 40%,rgba(0,0,0,0.09) 100%);-webkit-mask-image:linear-gradient(to bottom,#000 0,#000 55%,transparent 100%)"></div>
<div class="a" style="left:0;top:849px;width:1892px;height:1px;background:#2e3332"></div>
</body></html>
